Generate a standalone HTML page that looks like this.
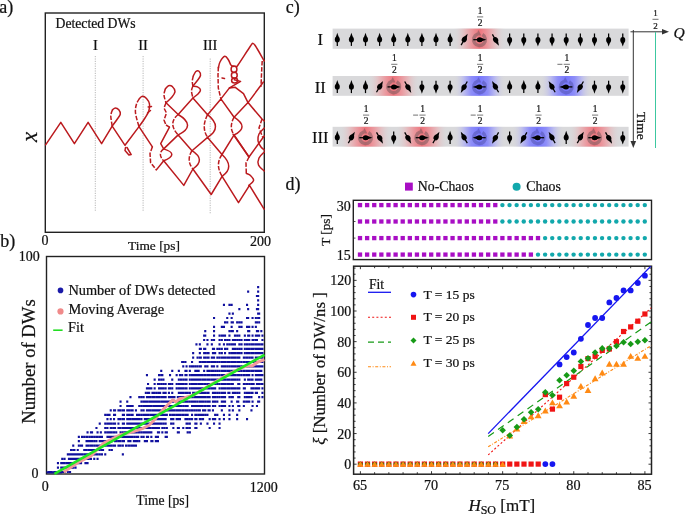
<!DOCTYPE html>
<html><head><meta charset="utf-8"><style>
html,body{margin:0;padding:0;background:#fff;width:685px;height:514px;overflow:hidden}
svg{display:block;will-change:transform}
text{font-family:"Liberation Serif", serif;stroke:#111;stroke-width:0.22px}
</style></head><body>
<svg width="685" height="514" viewBox="0 0 685 514">
<rect width="685" height="514" fill="#fff"/>
<text x="-0.7" y="12.9" font-size="18" text-anchor="start" font-style="normal" fill="#111" >a)</text>
<rect x="45.3" y="13" width="219" height="219.3" fill="none" stroke="#222" stroke-width="1.4"/>
<text x="55.5" y="27.6" font-size="13.7" text-anchor="start" font-style="normal" fill="#111" >Detected DWs</text>
<line x1="95.3" y1="56" x2="95.3" y2="211" stroke="#999" stroke-width="0.7" stroke-dasharray="1.2 1.2"/>
<text x="95.3" y="50.2" font-size="14.5" text-anchor="middle" font-style="normal" fill="#111" >I</text>
<line x1="143.1" y1="56" x2="143.1" y2="211" stroke="#999" stroke-width="0.7" stroke-dasharray="1.2 1.2"/>
<text x="143.1" y="50.2" font-size="14.5" text-anchor="middle" font-style="normal" fill="#111" >II</text>
<line x1="210.2" y1="58.5" x2="210.2" y2="214" stroke="#999" stroke-width="0.7" stroke-dasharray="1.2 1.2"/>
<text x="210.2" y="50.2" font-size="14.5" text-anchor="middle" font-style="normal" fill="#111" >III</text>
<text x="44.9" y="245.3" font-size="14" text-anchor="middle" font-style="normal" fill="#111" >0</text>
<text x="260.4" y="245.6" font-size="14" text-anchor="middle" font-style="normal" fill="#111" >200</text>
<text x="154" y="249.5" font-size="13.4" text-anchor="middle" font-style="normal" fill="#111" >Time [ps]</text>
<text x="0" y="0" font-size="23" font-style="italic" fill="#111" transform="translate(36.6,137) rotate(-90)" text-anchor="middle">x</text>
<g fill="none" stroke="#bb1a1e" stroke-width="1.5" stroke-linejoin="round" stroke-linecap="round">
<path d="M45.6,144.8 L60.8,122.4 L74.4,143.7 L88.1,122.4 L101.6,143.7 L112.2,126.1 L125.0,145.3 L139.0,126.6 L152.4,146.8"/>
<path d="M112.2,126.1 C113.0,125.0 115.7,121.5 117.0,119.5 C118.3,117.5 120.0,115.7 120.3,114.1 C120.6,112.5 119.6,110.8 118.8,109.8 C118.0,108.8 116.3,107.9 115.3,107.9 C114.2,107.9 113.0,109.5 112.5,109.8"/>
<path d="M125.5,147.5 L125.0,150.5 L128.9,155.0 L131.2,154.6 L127.0,147.5"/>
<path d="M139.0,126.6 C140.0,125.2 143.4,120.6 145.0,118.0 C146.6,115.4 148.1,113.3 148.8,111.0 C149.6,108.7 149.9,106.1 149.5,104.0 C149.1,101.9 147.7,99.8 146.5,98.5 C145.3,97.2 143.7,96.3 142.5,96.3 C141.3,96.3 140.0,98.1 139.5,98.5"/>
<path d="M148.2,107.0 L151.5,106.5"/>
<path d="M147.5,113.0 L150.5,110.5"/>
<path d="M156.4,169.9 L163.7,160.8 L183.8,185.4 L192.9,169.0 L211.2,194.5 L222.1,176.3 L238.5,202.7 L249.5,185.4 L264.1,209.1"/>
<path d="M163.7,148.9 Q179.9,153.9 163.7,160.8"/>
<path d="M192.0,150.7 Q206.3,159.8 192.9,169.0"/>
<path d="M222.0,154.5 Q235.4,167.0 222.1,176.3"/>
<path d="M246.3,173.3 C247.0,173.7 249.3,174.3 250.5,175.5 C251.7,176.7 253.9,178.8 253.6,180.4 C253.3,182.1 249.6,184.6 248.8,185.4"/>
<path d="M264.3,128.0 C263.4,129.0 260.1,131.8 259.0,134.0 C257.9,136.2 257.7,138.8 258.0,141.0 C258.3,143.2 259.9,145.5 261.0,147.0 C262.1,148.5 263.8,149.5 264.3,150.0"/>
<path d="M264.3,152.0 C263.4,153.0 260.0,155.8 259.0,158.0 C258.0,160.2 257.6,162.8 258.5,165.0 C259.4,167.2 263.3,170.0 264.3,171.0"/>
<path d="M163.7,148.9 L178.2,134.9 L192.0,150.7 L207.6,137.4 L222.0,154.5 L234.1,134.9 L249.0,157.0 L264.2,136.0"/>
<path d="M178.2,114.5 Q196.9,125.7 178.2,134.9"/>
<path d="M207.6,114.7 Q223.3,127.3 207.6,137.4"/>
<path d="M234.1,117.2 Q249.9,127.3 234.1,134.9"/>
<path d="M166.0,102.8 L178.2,114.5 L192.9,98.0 L207.6,114.7 L220.9,98.9 L234.1,117.2 L248.0,102.6 L262.0,119.0 L264.3,121.0"/>
<path d="M220.9,98.9 L229.5,87.9"/>
<path d="M248.0,102.6 L243.5,93.7 L235.3,87.3 L229.5,87.9"/>
<path d="M248.0,102.6 L263.4,82.0"/>
<path d="M229.5,87.9 L240.6,81.4 L234.2,79.7"/>
<path d="M218.4,68.0 C218.7,67.0 218.9,64.0 220.0,62.0 C221.1,60.0 223.4,56.6 224.8,56.3 C226.2,56.0 227.5,58.5 228.5,60.0 C229.5,61.5 230.1,64.0 231.0,65.1 C231.9,66.2 233.5,66.3 234.0,66.5"/>
<path d="M222.0,78.0 L224.5,78.5"/>
<path d="M236.0,66.5 C236.3,66.2 235.6,68.4 238.0,65.0 C240.4,61.6 248.0,49.6 250.5,46.0 C253.0,42.4 252.1,43.5 252.9,43.5 C253.7,43.5 253.6,43.1 255.5,46.0 C257.4,48.9 262.8,58.5 264.3,61.0"/>
<path d="M192.9,98.0 C193.8,97.3 196.7,95.3 198.0,94.0 C199.3,92.7 200.6,91.2 200.5,90.0 C200.4,88.8 198.8,87.5 197.5,86.8 C196.2,86.1 193.7,86.2 192.9,86.1"/>
<path d="M192.9,86.1 C193.6,85.2 195.7,82.8 197.0,81.0 C198.3,79.2 200.2,77.1 200.5,75.5 C200.8,73.9 199.8,71.9 199.0,71.2 C198.2,70.5 196.8,70.7 195.8,71.5 C194.9,72.3 193.7,75.2 193.3,76.0"/>
<path d="M166.0,102.8 C167.0,101.8 170.5,98.9 172.0,97.0 C173.5,95.1 174.9,93.2 175.0,91.5 C175.1,89.8 173.6,87.7 172.5,86.7 C171.4,85.8 169.7,85.4 168.5,85.8 C167.3,86.2 165.8,88.5 165.3,89.0"/>
<path d="M169.5,127.1 L160.7,143.6 L163.7,148.9"/>
<path d="M233.1,134.3 L249.0,157.0"/>
<ellipse cx="234" cy="69.3" rx="2.9" ry="3.2"/>
<ellipse cx="234.3" cy="75.2" rx="2.9" ry="3.0"/>
<ellipse cx="234.6" cy="80.6" rx="3.0" ry="2.5"/>
</g>
<g fill="none" stroke="#bb1a1e" stroke-width="1.5" stroke-dasharray="4.5 1.6">
<path d="M112.5,109.8 C112.2,110.8 110.8,113.3 110.8,116.0 C110.8,118.7 112.0,124.4 112.2,126.1"/>
<path d="M139.5,98.5 C139.0,99.4 137.2,101.6 136.5,104.0 C135.8,106.4 135.1,109.2 135.5,113.0 C135.9,116.8 138.4,124.3 139.0,126.6"/>
<path d="M152.4,146.8 L150.0,153.5 L150.6,162.6 L156.4,169.9"/>
<path d="M163.7,148.9 Q157.0,153.9 163.7,160.8"/>
<path d="M192.0,150.7 Q185.9,160.2 192.9,169.0"/>
<path d="M222.0,154.5 Q214.8,164.6 222.1,176.3"/>
<path d="M249.0,157.0 L246.0,163.0 L246.3,173.3"/>
<path d="M178.2,114.5 Q167.3,123.3 178.2,134.9"/>
<path d="M207.6,114.7 Q200.9,127.3 207.6,137.4"/>
<path d="M234.1,117.2 Q228.5,127.3 234.1,134.9"/>
<path d="M262.0,119.0 L259.0,128.0 L263.0,138.0"/>
<path d="M218.4,66.9 L218.0,75.0 L218.3,88.0 L220.9,98.9"/>
<path d="M262.2,61.0 L261.6,72.0 L261.0,86.7"/>
<path d="M192.9,86.1 C192.7,86.9 191.5,89.0 191.5,91.0 C191.5,93.0 192.7,96.8 192.9,98.0"/>
<path d="M193.3,76.0 C193.1,76.8 192.4,79.3 192.3,81.0 C192.2,82.7 192.8,85.2 192.9,86.1"/>
<path d="M165.3,89.0 C165.1,90.0 163.9,92.7 164.0,95.0 C164.1,97.3 165.7,101.5 166.0,102.8"/>
<path d="M166.0,102.8 L164.0,108.0 L166.5,113.0 L164.0,120.0 L166.0,125.0"/>
<path d="M166.0,125.0 L169.5,127.1"/>
</g>
<text x="0.3" y="246.9" font-size="18" text-anchor="start" font-style="normal" fill="#111" >b)</text>
<text x="39.8" y="260.5" font-size="14" text-anchor="end" font-style="normal" fill="#111" >100</text>
<text x="38.6" y="478.3" font-size="14" text-anchor="end" font-style="normal" fill="#111" >0</text>
<rect x="46.5" y="256.5" width="218" height="217.5" fill="none" stroke="#222" stroke-width="1.4"/>
<text x="45.3" y="490.8" font-size="14" text-anchor="middle" font-style="normal" fill="#111" >0</text>
<text x="263.8" y="491.6" font-size="14" text-anchor="middle" font-style="normal" fill="#111" >1200</text>
<text x="162.7" y="505.2" font-size="13.6" text-anchor="middle" font-style="normal" fill="#111" >Time [ps]</text>
<text x="0" y="0" font-size="18.7" fill="#111" transform="translate(35.2,361.5) rotate(-90)" text-anchor="middle">Number of DWs</text>
<path d="M48.1,470.9h2.1v2.2h-2.1zM49.2,470.9h2.1v2.2h-2.1zM50.2,470.9h2.1v2.2h-2.1zM53.6,470.9h2.1v2.2h-2.1zM55.8,470.9h2.1v2.2h-2.1zM56.9,462.1h2.1v2.2h-2.1zM56.9,466.5h2.1v2.2h-2.1zM56.9,470.9h2.1v2.2h-2.1zM58.0,470.9h2.1v2.2h-2.1zM60.2,462.1h2.1v2.2h-2.1zM60.2,466.5h2.1v2.2h-2.1zM60.2,470.9h2.1v2.2h-2.1zM61.2,457.7h2.1v2.2h-2.1zM61.2,462.1h2.1v2.2h-2.1zM61.2,466.5h2.1v2.2h-2.1zM61.2,470.9h2.1v2.2h-2.1zM62.4,462.1h2.1v2.2h-2.1zM62.4,466.5h2.1v2.2h-2.1zM62.4,470.9h2.1v2.2h-2.1zM63.5,457.7h2.1v2.2h-2.1zM63.5,462.1h2.1v2.2h-2.1zM63.5,466.5h2.1v2.2h-2.1zM63.5,470.9h2.1v2.2h-2.1zM65.7,462.1h2.1v2.2h-2.1zM65.7,466.5h2.1v2.2h-2.1zM66.8,453.3h2.1v2.2h-2.1zM66.8,462.1h2.1v2.2h-2.1zM66.8,466.5h2.1v2.2h-2.1zM66.8,470.9h2.1v2.2h-2.1zM67.9,453.3h2.1v2.2h-2.1zM67.9,457.7h2.1v2.2h-2.1zM67.9,462.1h2.1v2.2h-2.1zM69.0,453.3h2.1v2.2h-2.1zM69.0,457.7h2.1v2.2h-2.1zM69.0,462.1h2.1v2.2h-2.1zM69.0,466.5h2.1v2.2h-2.1zM69.0,470.9h2.1v2.2h-2.1zM70.0,448.9h2.1v2.2h-2.1zM70.0,453.3h2.1v2.2h-2.1zM70.0,457.7h2.1v2.2h-2.1zM70.0,466.5h2.1v2.2h-2.1zM71.2,453.3h2.1v2.2h-2.1zM71.2,457.7h2.1v2.2h-2.1zM71.2,462.1h2.1v2.2h-2.1zM71.2,466.5h2.1v2.2h-2.1zM72.2,444.5h2.1v2.2h-2.1zM72.2,448.9h2.1v2.2h-2.1zM72.2,453.3h2.1v2.2h-2.1zM72.2,457.7h2.1v2.2h-2.1zM72.2,462.1h2.1v2.2h-2.1zM72.2,466.5h2.1v2.2h-2.1zM73.4,448.9h2.1v2.2h-2.1zM73.4,453.3h2.1v2.2h-2.1zM73.4,457.7h2.1v2.2h-2.1zM73.4,462.1h2.1v2.2h-2.1zM74.5,453.3h2.1v2.2h-2.1zM74.5,457.7h2.1v2.2h-2.1zM74.5,462.1h2.1v2.2h-2.1zM74.5,466.5h2.1v2.2h-2.1zM75.5,453.3h2.1v2.2h-2.1zM75.5,457.7h2.1v2.2h-2.1zM75.5,462.1h2.1v2.2h-2.1zM76.7,448.9h2.1v2.2h-2.1zM76.7,453.3h2.1v2.2h-2.1zM76.7,457.7h2.1v2.2h-2.1zM76.7,462.1h2.1v2.2h-2.1zM77.8,435.7h2.1v2.2h-2.1zM77.8,440.1h2.1v2.2h-2.1zM77.8,444.5h2.1v2.2h-2.1zM77.8,453.3h2.1v2.2h-2.1zM77.8,457.7h2.1v2.2h-2.1zM77.8,462.1h2.1v2.2h-2.1zM78.9,453.3h2.1v2.2h-2.1zM78.9,457.7h2.1v2.2h-2.1zM80.0,444.5h2.1v2.2h-2.1zM80.0,453.3h2.1v2.2h-2.1zM80.0,457.7h2.1v2.2h-2.1zM80.0,462.1h2.1v2.2h-2.1zM81.0,435.7h2.1v2.2h-2.1zM81.0,444.5h2.1v2.2h-2.1zM81.0,453.3h2.1v2.2h-2.1zM81.0,457.7h2.1v2.2h-2.1zM83.2,435.7h2.1v2.2h-2.1zM83.2,448.9h2.1v2.2h-2.1zM83.2,453.3h2.1v2.2h-2.1zM83.2,457.7h2.1v2.2h-2.1zM84.4,448.9h2.1v2.2h-2.1zM84.4,453.3h2.1v2.2h-2.1zM84.4,457.7h2.1v2.2h-2.1zM84.4,462.1h2.1v2.2h-2.1zM85.5,435.7h2.1v2.2h-2.1zM85.5,440.1h2.1v2.2h-2.1zM85.5,444.5h2.1v2.2h-2.1zM85.5,448.9h2.1v2.2h-2.1zM85.5,453.3h2.1v2.2h-2.1zM86.5,431.3h2.1v2.2h-2.1zM86.5,435.7h2.1v2.2h-2.1zM86.5,440.1h2.1v2.2h-2.1zM86.5,444.5h2.1v2.2h-2.1zM86.5,453.3h2.1v2.2h-2.1zM86.5,457.7h2.1v2.2h-2.1zM86.5,462.1h2.1v2.2h-2.1zM87.7,440.1h2.1v2.2h-2.1zM87.7,444.5h2.1v2.2h-2.1zM87.7,448.9h2.1v2.2h-2.1zM87.7,453.3h2.1v2.2h-2.1zM87.7,457.7h2.1v2.2h-2.1zM88.8,435.7h2.1v2.2h-2.1zM88.8,440.1h2.1v2.2h-2.1zM88.8,448.9h2.1v2.2h-2.1zM88.8,453.3h2.1v2.2h-2.1zM89.9,431.3h2.1v2.2h-2.1zM89.9,440.1h2.1v2.2h-2.1zM89.9,444.5h2.1v2.2h-2.1zM89.9,448.9h2.1v2.2h-2.1zM89.9,453.3h2.1v2.2h-2.1zM89.9,457.7h2.1v2.2h-2.1zM91.0,431.3h2.1v2.2h-2.1zM91.0,435.7h2.1v2.2h-2.1zM91.0,440.1h2.1v2.2h-2.1zM91.0,444.5h2.1v2.2h-2.1zM91.0,448.9h2.1v2.2h-2.1zM91.0,453.3h2.1v2.2h-2.1zM92.0,448.9h2.1v2.2h-2.1zM92.0,453.3h2.1v2.2h-2.1zM93.2,435.7h2.1v2.2h-2.1zM93.2,440.1h2.1v2.2h-2.1zM93.2,444.5h2.1v2.2h-2.1zM93.2,448.9h2.1v2.2h-2.1zM93.2,453.3h2.1v2.2h-2.1zM93.2,457.7h2.1v2.2h-2.1zM95.4,426.9h2.1v2.2h-2.1zM95.4,435.7h2.1v2.2h-2.1zM95.4,440.1h2.1v2.2h-2.1zM95.4,444.5h2.1v2.2h-2.1zM95.4,448.9h2.1v2.2h-2.1zM95.4,453.3h2.1v2.2h-2.1zM96.5,431.3h2.1v2.2h-2.1zM96.5,435.7h2.1v2.2h-2.1zM96.5,444.5h2.1v2.2h-2.1zM96.5,448.9h2.1v2.2h-2.1zM96.5,453.3h2.1v2.2h-2.1zM96.5,457.7h2.1v2.2h-2.1zM98.7,422.5h2.1v2.2h-2.1zM98.7,435.7h2.1v2.2h-2.1zM98.7,440.1h2.1v2.2h-2.1zM98.7,444.5h2.1v2.2h-2.1zM98.7,448.9h2.1v2.2h-2.1zM98.7,453.3h2.1v2.2h-2.1zM99.8,431.3h2.1v2.2h-2.1zM99.8,435.7h2.1v2.2h-2.1zM99.8,440.1h2.1v2.2h-2.1zM99.8,444.5h2.1v2.2h-2.1zM100.9,435.7h2.1v2.2h-2.1zM100.9,440.1h2.1v2.2h-2.1zM100.9,444.5h2.1v2.2h-2.1zM100.9,448.9h2.1v2.2h-2.1zM100.9,453.3h2.1v2.2h-2.1zM102.0,440.1h2.1v2.2h-2.1zM102.0,444.5h2.1v2.2h-2.1zM102.0,448.9h2.1v2.2h-2.1zM104.2,413.7h2.1v2.2h-2.1zM104.2,422.5h2.1v2.2h-2.1zM104.2,426.9h2.1v2.2h-2.1zM104.2,431.3h2.1v2.2h-2.1zM104.2,440.1h2.1v2.2h-2.1zM104.2,444.5h2.1v2.2h-2.1zM104.2,453.3h2.1v2.2h-2.1zM106.4,413.7h2.1v2.2h-2.1zM106.4,418.1h2.1v2.2h-2.1zM106.4,422.5h2.1v2.2h-2.1zM106.4,426.9h2.1v2.2h-2.1zM106.4,431.3h2.1v2.2h-2.1zM106.4,435.7h2.1v2.2h-2.1zM106.4,440.1h2.1v2.2h-2.1zM106.4,444.5h2.1v2.2h-2.1zM107.5,440.1h2.1v2.2h-2.1zM107.5,444.5h2.1v2.2h-2.1zM108.5,413.7h2.1v2.2h-2.1zM108.5,422.5h2.1v2.2h-2.1zM108.5,431.3h2.1v2.2h-2.1zM108.5,435.7h2.1v2.2h-2.1zM108.5,440.1h2.1v2.2h-2.1zM108.5,444.5h2.1v2.2h-2.1zM108.5,448.9h2.1v2.2h-2.1zM109.7,409.3h2.1v2.2h-2.1zM109.7,418.1h2.1v2.2h-2.1zM109.7,422.5h2.1v2.2h-2.1zM109.7,426.9h2.1v2.2h-2.1zM109.7,431.3h2.1v2.2h-2.1zM109.7,435.7h2.1v2.2h-2.1zM109.7,440.1h2.1v2.2h-2.1zM109.7,444.5h2.1v2.2h-2.1zM110.8,422.5h2.1v2.2h-2.1zM110.8,426.9h2.1v2.2h-2.1zM110.8,431.3h2.1v2.2h-2.1zM110.8,435.7h2.1v2.2h-2.1zM110.8,440.1h2.1v2.2h-2.1zM110.8,444.5h2.1v2.2h-2.1zM110.8,448.9h2.1v2.2h-2.1zM113.0,409.3h2.1v2.2h-2.1zM113.0,413.7h2.1v2.2h-2.1zM113.0,418.1h2.1v2.2h-2.1zM113.0,422.5h2.1v2.2h-2.1zM113.0,426.9h2.1v2.2h-2.1zM113.0,431.3h2.1v2.2h-2.1zM113.0,435.7h2.1v2.2h-2.1zM113.0,444.5h2.1v2.2h-2.1zM114.0,409.3h2.1v2.2h-2.1zM114.0,413.7h2.1v2.2h-2.1zM114.0,422.5h2.1v2.2h-2.1zM114.0,426.9h2.1v2.2h-2.1zM114.0,435.7h2.1v2.2h-2.1zM114.0,440.1h2.1v2.2h-2.1zM114.0,444.5h2.1v2.2h-2.1zM115.2,431.3h2.1v2.2h-2.1zM115.2,435.7h2.1v2.2h-2.1zM115.2,440.1h2.1v2.2h-2.1zM117.4,409.3h2.1v2.2h-2.1zM117.4,418.1h2.1v2.2h-2.1zM117.4,422.5h2.1v2.2h-2.1zM117.4,426.9h2.1v2.2h-2.1zM117.4,435.7h2.1v2.2h-2.1zM117.4,440.1h2.1v2.2h-2.1zM117.4,444.5h2.1v2.2h-2.1zM119.5,400.5h2.1v2.2h-2.1zM119.5,404.9h2.1v2.2h-2.1zM119.5,409.3h2.1v2.2h-2.1zM119.5,418.1h2.1v2.2h-2.1zM119.5,426.9h2.1v2.2h-2.1zM119.5,431.3h2.1v2.2h-2.1zM119.5,435.7h2.1v2.2h-2.1zM119.5,440.1h2.1v2.2h-2.1zM119.5,444.5h2.1v2.2h-2.1zM121.8,409.3h2.1v2.2h-2.1zM121.8,413.7h2.1v2.2h-2.1zM121.8,418.1h2.1v2.2h-2.1zM121.8,422.5h2.1v2.2h-2.1zM121.8,426.9h2.1v2.2h-2.1zM121.8,431.3h2.1v2.2h-2.1zM121.8,435.7h2.1v2.2h-2.1zM121.8,440.1h2.1v2.2h-2.1zM121.8,444.5h2.1v2.2h-2.1zM121.8,453.3h2.1v2.2h-2.1zM122.9,409.3h2.1v2.2h-2.1zM122.9,413.7h2.1v2.2h-2.1zM122.9,418.1h2.1v2.2h-2.1zM122.9,422.5h2.1v2.2h-2.1zM122.9,426.9h2.1v2.2h-2.1zM122.9,435.7h2.1v2.2h-2.1zM122.9,440.1h2.1v2.2h-2.1zM124.0,431.3h2.1v2.2h-2.1zM124.0,435.7h2.1v2.2h-2.1zM125.0,426.9h2.1v2.2h-2.1zM125.0,431.3h2.1v2.2h-2.1zM125.0,435.7h2.1v2.2h-2.1zM125.0,444.5h2.1v2.2h-2.1zM126.2,400.5h2.1v2.2h-2.1zM126.2,404.9h2.1v2.2h-2.1zM126.2,409.3h2.1v2.2h-2.1zM126.2,413.7h2.1v2.2h-2.1zM126.2,418.1h2.1v2.2h-2.1zM126.2,422.5h2.1v2.2h-2.1zM126.2,426.9h2.1v2.2h-2.1zM126.2,431.3h2.1v2.2h-2.1zM126.2,435.7h2.1v2.2h-2.1zM127.3,413.7h2.1v2.2h-2.1zM127.3,418.1h2.1v2.2h-2.1zM127.3,426.9h2.1v2.2h-2.1zM127.3,431.3h2.1v2.2h-2.1zM127.3,440.1h2.1v2.2h-2.1zM127.3,444.5h2.1v2.2h-2.1zM128.3,404.9h2.1v2.2h-2.1zM128.3,409.3h2.1v2.2h-2.1zM128.3,413.7h2.1v2.2h-2.1zM128.3,422.5h2.1v2.2h-2.1zM128.3,426.9h2.1v2.2h-2.1zM128.3,431.3h2.1v2.2h-2.1zM128.3,435.7h2.1v2.2h-2.1zM128.3,440.1h2.1v2.2h-2.1zM128.3,444.5h2.1v2.2h-2.1zM129.4,396.1h2.1v2.2h-2.1zM129.4,404.9h2.1v2.2h-2.1zM129.4,418.1h2.1v2.2h-2.1zM129.4,422.5h2.1v2.2h-2.1zM129.4,426.9h2.1v2.2h-2.1zM129.4,431.3h2.1v2.2h-2.1zM129.4,435.7h2.1v2.2h-2.1zM129.4,440.1h2.1v2.2h-2.1zM130.5,404.9h2.1v2.2h-2.1zM130.5,409.3h2.1v2.2h-2.1zM130.5,413.7h2.1v2.2h-2.1zM130.5,422.5h2.1v2.2h-2.1zM130.5,426.9h2.1v2.2h-2.1zM130.5,431.3h2.1v2.2h-2.1zM130.5,435.7h2.1v2.2h-2.1zM130.5,444.5h2.1v2.2h-2.1zM131.6,404.9h2.1v2.2h-2.1zM131.6,409.3h2.1v2.2h-2.1zM131.6,413.7h2.1v2.2h-2.1zM131.6,418.1h2.1v2.2h-2.1zM131.6,422.5h2.1v2.2h-2.1zM131.6,426.9h2.1v2.2h-2.1zM131.6,431.3h2.1v2.2h-2.1zM131.6,435.7h2.1v2.2h-2.1zM131.6,444.5h2.1v2.2h-2.1zM132.8,418.1h2.1v2.2h-2.1zM132.8,422.5h2.1v2.2h-2.1zM132.8,426.9h2.1v2.2h-2.1zM132.8,431.3h2.1v2.2h-2.1zM132.8,440.1h2.1v2.2h-2.1zM132.8,444.5h2.1v2.2h-2.1zM133.8,426.9h2.1v2.2h-2.1zM133.8,431.3h2.1v2.2h-2.1zM133.8,435.7h2.1v2.2h-2.1zM134.9,409.3h2.1v2.2h-2.1zM134.9,418.1h2.1v2.2h-2.1zM134.9,422.5h2.1v2.2h-2.1zM134.9,426.9h2.1v2.2h-2.1zM134.9,431.3h2.1v2.2h-2.1zM134.9,440.1h2.1v2.2h-2.1zM134.9,444.5h2.1v2.2h-2.1zM136.0,413.7h2.1v2.2h-2.1zM136.0,418.1h2.1v2.2h-2.1zM136.0,422.5h2.1v2.2h-2.1zM136.0,426.9h2.1v2.2h-2.1zM136.0,435.7h2.1v2.2h-2.1zM136.0,440.1h2.1v2.2h-2.1zM137.1,413.7h2.1v2.2h-2.1zM137.1,418.1h2.1v2.2h-2.1zM137.1,422.5h2.1v2.2h-2.1zM137.1,426.9h2.1v2.2h-2.1zM137.1,431.3h2.1v2.2h-2.1zM137.1,435.7h2.1v2.2h-2.1zM138.2,396.1h2.1v2.2h-2.1zM138.2,404.9h2.1v2.2h-2.1zM138.2,413.7h2.1v2.2h-2.1zM138.2,418.1h2.1v2.2h-2.1zM138.2,422.5h2.1v2.2h-2.1zM138.2,426.9h2.1v2.2h-2.1zM138.2,431.3h2.1v2.2h-2.1zM138.2,440.1h2.1v2.2h-2.1zM140.4,396.1h2.1v2.2h-2.1zM140.4,400.5h2.1v2.2h-2.1zM140.4,404.9h2.1v2.2h-2.1zM140.4,409.3h2.1v2.2h-2.1zM140.4,413.7h2.1v2.2h-2.1zM140.4,418.1h2.1v2.2h-2.1zM140.4,422.5h2.1v2.2h-2.1zM140.4,426.9h2.1v2.2h-2.1zM140.4,431.3h2.1v2.2h-2.1zM140.4,435.7h2.1v2.2h-2.1zM142.6,396.1h2.1v2.2h-2.1zM142.6,400.5h2.1v2.2h-2.1zM142.6,404.9h2.1v2.2h-2.1zM142.6,409.3h2.1v2.2h-2.1zM142.6,413.7h2.1v2.2h-2.1zM142.6,422.5h2.1v2.2h-2.1zM142.6,426.9h2.1v2.2h-2.1zM142.6,431.3h2.1v2.2h-2.1zM142.6,435.7h2.1v2.2h-2.1zM143.8,400.5h2.1v2.2h-2.1zM143.8,404.9h2.1v2.2h-2.1zM143.8,413.7h2.1v2.2h-2.1zM143.8,418.1h2.1v2.2h-2.1zM143.8,422.5h2.1v2.2h-2.1zM143.8,431.3h2.1v2.2h-2.1zM143.8,440.1h2.1v2.2h-2.1zM144.8,391.7h2.1v2.2h-2.1zM144.8,400.5h2.1v2.2h-2.1zM144.8,404.9h2.1v2.2h-2.1zM144.8,413.7h2.1v2.2h-2.1zM144.8,418.1h2.1v2.2h-2.1zM144.8,422.5h2.1v2.2h-2.1zM144.8,426.9h2.1v2.2h-2.1zM145.9,374.1h2.1v2.2h-2.1zM145.9,387.3h2.1v2.2h-2.1zM145.9,396.1h2.1v2.2h-2.1zM145.9,400.5h2.1v2.2h-2.1zM145.9,404.9h2.1v2.2h-2.1zM145.9,409.3h2.1v2.2h-2.1zM145.9,413.7h2.1v2.2h-2.1zM145.9,418.1h2.1v2.2h-2.1zM145.9,422.5h2.1v2.2h-2.1zM145.9,426.9h2.1v2.2h-2.1zM145.9,431.3h2.1v2.2h-2.1zM145.9,435.7h2.1v2.2h-2.1zM145.9,440.1h2.1v2.2h-2.1zM147.0,382.9h2.1v2.2h-2.1zM147.0,387.3h2.1v2.2h-2.1zM147.0,391.7h2.1v2.2h-2.1zM147.0,396.1h2.1v2.2h-2.1zM147.0,404.9h2.1v2.2h-2.1zM147.0,409.3h2.1v2.2h-2.1zM147.0,413.7h2.1v2.2h-2.1zM147.0,418.1h2.1v2.2h-2.1zM147.0,422.5h2.1v2.2h-2.1zM147.0,426.9h2.1v2.2h-2.1zM147.0,431.3h2.1v2.2h-2.1zM147.0,435.7h2.1v2.2h-2.1zM148.1,387.3h2.1v2.2h-2.1zM148.1,391.7h2.1v2.2h-2.1zM148.1,396.1h2.1v2.2h-2.1zM148.1,400.5h2.1v2.2h-2.1zM148.1,404.9h2.1v2.2h-2.1zM148.1,409.3h2.1v2.2h-2.1zM148.1,418.1h2.1v2.2h-2.1zM148.1,422.5h2.1v2.2h-2.1zM148.1,426.9h2.1v2.2h-2.1zM148.1,431.3h2.1v2.2h-2.1zM149.2,387.3h2.1v2.2h-2.1zM149.2,396.1h2.1v2.2h-2.1zM149.2,400.5h2.1v2.2h-2.1zM149.2,404.9h2.1v2.2h-2.1zM149.2,409.3h2.1v2.2h-2.1zM149.2,413.7h2.1v2.2h-2.1zM149.2,418.1h2.1v2.2h-2.1zM149.2,422.5h2.1v2.2h-2.1zM149.2,426.9h2.1v2.2h-2.1zM149.2,431.3h2.1v2.2h-2.1zM150.3,387.3h2.1v2.2h-2.1zM150.3,400.5h2.1v2.2h-2.1zM150.3,404.9h2.1v2.2h-2.1zM150.3,413.7h2.1v2.2h-2.1zM150.3,418.1h2.1v2.2h-2.1zM150.3,431.3h2.1v2.2h-2.1zM150.3,435.7h2.1v2.2h-2.1zM150.3,440.1h2.1v2.2h-2.1zM151.4,391.7h2.1v2.2h-2.1zM151.4,396.1h2.1v2.2h-2.1zM151.4,400.5h2.1v2.2h-2.1zM151.4,409.3h2.1v2.2h-2.1zM151.4,413.7h2.1v2.2h-2.1zM151.4,418.1h2.1v2.2h-2.1zM151.4,422.5h2.1v2.2h-2.1zM151.4,426.9h2.1v2.2h-2.1zM151.4,440.1h2.1v2.2h-2.1zM152.5,391.7h2.1v2.2h-2.1zM152.5,396.1h2.1v2.2h-2.1zM152.5,400.5h2.1v2.2h-2.1zM152.5,404.9h2.1v2.2h-2.1zM152.5,409.3h2.1v2.2h-2.1zM152.5,413.7h2.1v2.2h-2.1zM152.5,418.1h2.1v2.2h-2.1zM152.5,422.5h2.1v2.2h-2.1zM152.5,426.9h2.1v2.2h-2.1zM153.6,378.5h2.1v2.2h-2.1zM153.6,382.9h2.1v2.2h-2.1zM153.6,387.3h2.1v2.2h-2.1zM153.6,391.7h2.1v2.2h-2.1zM153.6,396.1h2.1v2.2h-2.1zM153.6,400.5h2.1v2.2h-2.1zM153.6,404.9h2.1v2.2h-2.1zM153.6,409.3h2.1v2.2h-2.1zM153.6,413.7h2.1v2.2h-2.1zM153.6,418.1h2.1v2.2h-2.1zM153.6,422.5h2.1v2.2h-2.1zM153.6,426.9h2.1v2.2h-2.1zM154.8,400.5h2.1v2.2h-2.1zM154.8,404.9h2.1v2.2h-2.1zM154.8,409.3h2.1v2.2h-2.1zM154.8,413.7h2.1v2.2h-2.1zM154.8,418.1h2.1v2.2h-2.1zM154.8,422.5h2.1v2.2h-2.1zM154.8,426.9h2.1v2.2h-2.1zM154.8,435.7h2.1v2.2h-2.1zM154.8,440.1h2.1v2.2h-2.1zM155.8,391.7h2.1v2.2h-2.1zM155.8,396.1h2.1v2.2h-2.1zM155.8,400.5h2.1v2.2h-2.1zM155.8,404.9h2.1v2.2h-2.1zM155.8,409.3h2.1v2.2h-2.1zM155.8,413.7h2.1v2.2h-2.1zM155.8,418.1h2.1v2.2h-2.1zM155.8,422.5h2.1v2.2h-2.1zM156.9,382.9h2.1v2.2h-2.1zM156.9,396.1h2.1v2.2h-2.1zM156.9,400.5h2.1v2.2h-2.1zM156.9,404.9h2.1v2.2h-2.1zM156.9,409.3h2.1v2.2h-2.1zM156.9,413.7h2.1v2.2h-2.1zM156.9,418.1h2.1v2.2h-2.1zM156.9,422.5h2.1v2.2h-2.1zM156.9,426.9h2.1v2.2h-2.1zM156.9,431.3h2.1v2.2h-2.1zM156.9,435.7h2.1v2.2h-2.1zM156.9,440.1h2.1v2.2h-2.1zM158.0,374.1h2.1v2.2h-2.1zM158.0,378.5h2.1v2.2h-2.1zM158.0,382.9h2.1v2.2h-2.1zM158.0,387.3h2.1v2.2h-2.1zM158.0,391.7h2.1v2.2h-2.1zM158.0,396.1h2.1v2.2h-2.1zM158.0,400.5h2.1v2.2h-2.1zM158.0,404.9h2.1v2.2h-2.1zM158.0,409.3h2.1v2.2h-2.1zM158.0,413.7h2.1v2.2h-2.1zM158.0,418.1h2.1v2.2h-2.1zM158.0,422.5h2.1v2.2h-2.1zM158.0,426.9h2.1v2.2h-2.1zM158.0,431.3h2.1v2.2h-2.1zM159.1,387.3h2.1v2.2h-2.1zM159.1,391.7h2.1v2.2h-2.1zM159.1,404.9h2.1v2.2h-2.1zM159.1,409.3h2.1v2.2h-2.1zM159.1,413.7h2.1v2.2h-2.1zM159.1,418.1h2.1v2.2h-2.1zM159.1,422.5h2.1v2.2h-2.1zM160.2,369.7h2.1v2.2h-2.1zM160.2,374.1h2.1v2.2h-2.1zM160.2,378.5h2.1v2.2h-2.1zM160.2,382.9h2.1v2.2h-2.1zM160.2,387.3h2.1v2.2h-2.1zM160.2,396.1h2.1v2.2h-2.1zM160.2,400.5h2.1v2.2h-2.1zM160.2,404.9h2.1v2.2h-2.1zM160.2,409.3h2.1v2.2h-2.1zM160.2,413.7h2.1v2.2h-2.1zM160.2,418.1h2.1v2.2h-2.1zM160.2,422.5h2.1v2.2h-2.1zM161.3,374.1h2.1v2.2h-2.1zM161.3,387.3h2.1v2.2h-2.1zM161.3,396.1h2.1v2.2h-2.1zM161.3,400.5h2.1v2.2h-2.1zM161.3,404.9h2.1v2.2h-2.1zM161.3,409.3h2.1v2.2h-2.1zM161.3,413.7h2.1v2.2h-2.1zM161.3,418.1h2.1v2.2h-2.1zM161.3,426.9h2.1v2.2h-2.1zM161.3,431.3h2.1v2.2h-2.1zM162.4,378.5h2.1v2.2h-2.1zM162.4,382.9h2.1v2.2h-2.1zM162.4,387.3h2.1v2.2h-2.1zM162.4,391.7h2.1v2.2h-2.1zM162.4,396.1h2.1v2.2h-2.1zM162.4,400.5h2.1v2.2h-2.1zM162.4,404.9h2.1v2.2h-2.1zM162.4,409.3h2.1v2.2h-2.1zM162.4,413.7h2.1v2.2h-2.1zM162.4,418.1h2.1v2.2h-2.1zM162.4,422.5h2.1v2.2h-2.1zM163.5,391.7h2.1v2.2h-2.1zM163.5,396.1h2.1v2.2h-2.1zM163.5,400.5h2.1v2.2h-2.1zM163.5,404.9h2.1v2.2h-2.1zM163.5,409.3h2.1v2.2h-2.1zM163.5,413.7h2.1v2.2h-2.1zM163.5,418.1h2.1v2.2h-2.1zM163.5,426.9h2.1v2.2h-2.1zM164.6,382.9h2.1v2.2h-2.1zM164.6,387.3h2.1v2.2h-2.1zM164.6,391.7h2.1v2.2h-2.1zM164.6,396.1h2.1v2.2h-2.1zM164.6,400.5h2.1v2.2h-2.1zM164.6,404.9h2.1v2.2h-2.1zM164.6,409.3h2.1v2.2h-2.1zM164.6,413.7h2.1v2.2h-2.1zM164.6,418.1h2.1v2.2h-2.1zM164.6,422.5h2.1v2.2h-2.1zM164.6,431.3h2.1v2.2h-2.1zM164.6,435.7h2.1v2.2h-2.1zM165.8,400.5h2.1v2.2h-2.1zM165.8,404.9h2.1v2.2h-2.1zM165.8,409.3h2.1v2.2h-2.1zM165.8,413.7h2.1v2.2h-2.1zM165.8,426.9h2.1v2.2h-2.1zM165.8,431.3h2.1v2.2h-2.1zM165.8,435.7h2.1v2.2h-2.1zM167.9,382.9h2.1v2.2h-2.1zM167.9,387.3h2.1v2.2h-2.1zM167.9,391.7h2.1v2.2h-2.1zM167.9,396.1h2.1v2.2h-2.1zM167.9,400.5h2.1v2.2h-2.1zM167.9,404.9h2.1v2.2h-2.1zM167.9,409.3h2.1v2.2h-2.1zM169.0,374.1h2.1v2.2h-2.1zM169.0,382.9h2.1v2.2h-2.1zM169.0,387.3h2.1v2.2h-2.1zM169.0,396.1h2.1v2.2h-2.1zM169.0,400.5h2.1v2.2h-2.1zM169.0,404.9h2.1v2.2h-2.1zM169.0,409.3h2.1v2.2h-2.1zM169.0,413.7h2.1v2.2h-2.1zM170.1,396.1h2.1v2.2h-2.1zM170.1,400.5h2.1v2.2h-2.1zM170.1,404.9h2.1v2.2h-2.1zM170.1,409.3h2.1v2.2h-2.1zM170.1,418.1h2.1v2.2h-2.1zM170.1,422.5h2.1v2.2h-2.1zM171.2,369.7h2.1v2.2h-2.1zM171.2,378.5h2.1v2.2h-2.1zM171.2,382.9h2.1v2.2h-2.1zM171.2,387.3h2.1v2.2h-2.1zM171.2,391.7h2.1v2.2h-2.1zM171.2,396.1h2.1v2.2h-2.1zM171.2,400.5h2.1v2.2h-2.1zM171.2,404.9h2.1v2.2h-2.1zM171.2,409.3h2.1v2.2h-2.1zM171.2,413.7h2.1v2.2h-2.1zM171.2,418.1h2.1v2.2h-2.1zM172.3,396.1h2.1v2.2h-2.1zM172.3,400.5h2.1v2.2h-2.1zM172.3,404.9h2.1v2.2h-2.1zM172.3,409.3h2.1v2.2h-2.1zM172.3,413.7h2.1v2.2h-2.1zM172.3,418.1h2.1v2.2h-2.1zM172.3,422.5h2.1v2.2h-2.1zM172.3,426.9h2.1v2.2h-2.1zM173.4,396.1h2.1v2.2h-2.1zM173.4,404.9h2.1v2.2h-2.1zM173.4,409.3h2.1v2.2h-2.1zM173.4,413.7h2.1v2.2h-2.1zM175.6,374.1h2.1v2.2h-2.1zM175.6,382.9h2.1v2.2h-2.1zM175.6,387.3h2.1v2.2h-2.1zM175.6,400.5h2.1v2.2h-2.1zM175.6,404.9h2.1v2.2h-2.1zM175.6,409.3h2.1v2.2h-2.1zM175.6,413.7h2.1v2.2h-2.1zM175.6,418.1h2.1v2.2h-2.1zM176.8,396.1h2.1v2.2h-2.1zM176.8,400.5h2.1v2.2h-2.1zM176.8,404.9h2.1v2.2h-2.1zM176.8,409.3h2.1v2.2h-2.1zM176.8,413.7h2.1v2.2h-2.1zM176.8,418.1h2.1v2.2h-2.1zM176.8,426.9h2.1v2.2h-2.1zM176.8,431.3h2.1v2.2h-2.1zM177.8,369.7h2.1v2.2h-2.1zM177.8,378.5h2.1v2.2h-2.1zM177.8,382.9h2.1v2.2h-2.1zM177.8,387.3h2.1v2.2h-2.1zM177.8,391.7h2.1v2.2h-2.1zM177.8,396.1h2.1v2.2h-2.1zM177.8,400.5h2.1v2.2h-2.1zM177.8,404.9h2.1v2.2h-2.1zM177.8,409.3h2.1v2.2h-2.1zM177.8,413.7h2.1v2.2h-2.1zM177.8,418.1h2.1v2.2h-2.1zM177.8,426.9h2.1v2.2h-2.1zM177.8,431.3h2.1v2.2h-2.1zM178.9,374.1h2.1v2.2h-2.1zM178.9,382.9h2.1v2.2h-2.1zM178.9,387.3h2.1v2.2h-2.1zM178.9,391.7h2.1v2.2h-2.1zM178.9,396.1h2.1v2.2h-2.1zM178.9,400.5h2.1v2.2h-2.1zM178.9,404.9h2.1v2.2h-2.1zM178.9,409.3h2.1v2.2h-2.1zM178.9,413.7h2.1v2.2h-2.1zM178.9,418.1h2.1v2.2h-2.1zM180.0,378.5h2.1v2.2h-2.1zM180.0,382.9h2.1v2.2h-2.1zM180.0,387.3h2.1v2.2h-2.1zM180.0,391.7h2.1v2.2h-2.1zM180.0,396.1h2.1v2.2h-2.1zM180.0,400.5h2.1v2.2h-2.1zM180.0,404.9h2.1v2.2h-2.1zM181.1,360.9h2.1v2.2h-2.1zM181.1,374.1h2.1v2.2h-2.1zM181.1,382.9h2.1v2.2h-2.1zM181.1,387.3h2.1v2.2h-2.1zM181.1,391.7h2.1v2.2h-2.1zM181.1,396.1h2.1v2.2h-2.1zM181.1,400.5h2.1v2.2h-2.1zM181.1,409.3h2.1v2.2h-2.1zM181.1,413.7h2.1v2.2h-2.1zM182.2,360.9h2.1v2.2h-2.1zM182.2,365.3h2.1v2.2h-2.1zM182.2,378.5h2.1v2.2h-2.1zM182.2,382.9h2.1v2.2h-2.1zM182.2,387.3h2.1v2.2h-2.1zM182.2,391.7h2.1v2.2h-2.1zM182.2,396.1h2.1v2.2h-2.1zM182.2,400.5h2.1v2.2h-2.1zM182.2,404.9h2.1v2.2h-2.1zM182.2,409.3h2.1v2.2h-2.1zM182.2,413.7h2.1v2.2h-2.1zM182.2,426.9h2.1v2.2h-2.1zM184.4,360.9h2.1v2.2h-2.1zM184.4,369.7h2.1v2.2h-2.1zM184.4,374.1h2.1v2.2h-2.1zM184.4,378.5h2.1v2.2h-2.1zM184.4,382.9h2.1v2.2h-2.1zM184.4,387.3h2.1v2.2h-2.1zM184.4,391.7h2.1v2.2h-2.1zM184.4,396.1h2.1v2.2h-2.1zM184.4,400.5h2.1v2.2h-2.1zM184.4,404.9h2.1v2.2h-2.1zM184.4,409.3h2.1v2.2h-2.1zM184.4,413.7h2.1v2.2h-2.1zM184.4,418.1h2.1v2.2h-2.1zM185.5,365.3h2.1v2.2h-2.1zM185.5,369.7h2.1v2.2h-2.1zM185.5,374.1h2.1v2.2h-2.1zM185.5,378.5h2.1v2.2h-2.1zM185.5,382.9h2.1v2.2h-2.1zM185.5,387.3h2.1v2.2h-2.1zM185.5,391.7h2.1v2.2h-2.1zM185.5,396.1h2.1v2.2h-2.1zM185.5,400.5h2.1v2.2h-2.1zM185.5,404.9h2.1v2.2h-2.1zM185.5,409.3h2.1v2.2h-2.1zM185.5,413.7h2.1v2.2h-2.1zM185.5,418.1h2.1v2.2h-2.1zM185.5,422.5h2.1v2.2h-2.1zM185.5,426.9h2.1v2.2h-2.1zM186.6,391.7h2.1v2.2h-2.1zM186.6,396.1h2.1v2.2h-2.1zM186.6,400.5h2.1v2.2h-2.1zM186.6,404.9h2.1v2.2h-2.1zM186.6,409.3h2.1v2.2h-2.1zM186.6,413.7h2.1v2.2h-2.1zM186.6,418.1h2.1v2.2h-2.1zM186.6,422.5h2.1v2.2h-2.1zM186.6,426.9h2.1v2.2h-2.1zM186.6,431.3h2.1v2.2h-2.1zM188.8,365.3h2.1v2.2h-2.1zM188.8,369.7h2.1v2.2h-2.1zM188.8,374.1h2.1v2.2h-2.1zM188.8,378.5h2.1v2.2h-2.1zM188.8,382.9h2.1v2.2h-2.1zM188.8,387.3h2.1v2.2h-2.1zM188.8,391.7h2.1v2.2h-2.1zM188.8,396.1h2.1v2.2h-2.1zM188.8,400.5h2.1v2.2h-2.1zM188.8,409.3h2.1v2.2h-2.1zM188.8,418.1h2.1v2.2h-2.1zM188.8,422.5h2.1v2.2h-2.1zM188.8,426.9h2.1v2.2h-2.1zM188.8,431.3h2.1v2.2h-2.1zM191.0,360.9h2.1v2.2h-2.1zM191.0,365.3h2.1v2.2h-2.1zM191.0,374.1h2.1v2.2h-2.1zM191.0,378.5h2.1v2.2h-2.1zM191.0,382.9h2.1v2.2h-2.1zM191.0,387.3h2.1v2.2h-2.1zM191.0,396.1h2.1v2.2h-2.1zM191.0,400.5h2.1v2.2h-2.1zM191.0,404.9h2.1v2.2h-2.1zM191.0,409.3h2.1v2.2h-2.1zM191.0,413.7h2.1v2.2h-2.1zM191.0,418.1h2.1v2.2h-2.1zM192.1,352.1h2.1v2.2h-2.1zM192.1,356.5h2.1v2.2h-2.1zM192.1,365.3h2.1v2.2h-2.1zM192.1,374.1h2.1v2.2h-2.1zM192.1,378.5h2.1v2.2h-2.1zM192.1,382.9h2.1v2.2h-2.1zM192.1,387.3h2.1v2.2h-2.1zM192.1,391.7h2.1v2.2h-2.1zM192.1,400.5h2.1v2.2h-2.1zM192.1,404.9h2.1v2.2h-2.1zM193.2,374.1h2.1v2.2h-2.1zM193.2,378.5h2.1v2.2h-2.1zM193.2,382.9h2.1v2.2h-2.1zM193.2,387.3h2.1v2.2h-2.1zM193.2,391.7h2.1v2.2h-2.1zM193.2,396.1h2.1v2.2h-2.1zM193.2,400.5h2.1v2.2h-2.1zM193.2,404.9h2.1v2.2h-2.1zM193.2,409.3h2.1v2.2h-2.1zM194.3,365.3h2.1v2.2h-2.1zM194.3,369.7h2.1v2.2h-2.1zM194.3,374.1h2.1v2.2h-2.1zM194.3,378.5h2.1v2.2h-2.1zM194.3,382.9h2.1v2.2h-2.1zM194.3,387.3h2.1v2.2h-2.1zM194.3,391.7h2.1v2.2h-2.1zM194.3,396.1h2.1v2.2h-2.1zM194.3,400.5h2.1v2.2h-2.1zM194.3,404.9h2.1v2.2h-2.1zM194.3,413.7h2.1v2.2h-2.1zM194.3,418.1h2.1v2.2h-2.1zM194.3,422.5h2.1v2.2h-2.1zM194.3,426.9h2.1v2.2h-2.1zM195.4,343.3h2.1v2.2h-2.1zM195.4,369.7h2.1v2.2h-2.1zM195.4,374.1h2.1v2.2h-2.1zM195.4,378.5h2.1v2.2h-2.1zM195.4,382.9h2.1v2.2h-2.1zM195.4,387.3h2.1v2.2h-2.1zM195.4,391.7h2.1v2.2h-2.1zM195.4,396.1h2.1v2.2h-2.1zM195.4,404.9h2.1v2.2h-2.1zM195.4,409.3h2.1v2.2h-2.1zM195.4,413.7h2.1v2.2h-2.1zM195.4,418.1h2.1v2.2h-2.1zM195.4,422.5h2.1v2.2h-2.1zM195.4,426.9h2.1v2.2h-2.1zM196.5,356.5h2.1v2.2h-2.1zM196.5,365.3h2.1v2.2h-2.1zM196.5,369.7h2.1v2.2h-2.1zM196.5,374.1h2.1v2.2h-2.1zM196.5,378.5h2.1v2.2h-2.1zM196.5,387.3h2.1v2.2h-2.1zM196.5,391.7h2.1v2.2h-2.1zM196.5,396.1h2.1v2.2h-2.1zM196.5,400.5h2.1v2.2h-2.1zM196.5,404.9h2.1v2.2h-2.1zM197.6,369.7h2.1v2.2h-2.1zM197.6,374.1h2.1v2.2h-2.1zM197.6,378.5h2.1v2.2h-2.1zM197.6,382.9h2.1v2.2h-2.1zM197.6,387.3h2.1v2.2h-2.1zM197.6,391.7h2.1v2.2h-2.1zM197.6,396.1h2.1v2.2h-2.1zM197.6,404.9h2.1v2.2h-2.1zM197.6,409.3h2.1v2.2h-2.1zM197.6,413.7h2.1v2.2h-2.1zM198.8,343.3h2.1v2.2h-2.1zM198.8,347.7h2.1v2.2h-2.1zM198.8,352.1h2.1v2.2h-2.1zM198.8,356.5h2.1v2.2h-2.1zM198.8,360.9h2.1v2.2h-2.1zM198.8,365.3h2.1v2.2h-2.1zM198.8,374.1h2.1v2.2h-2.1zM198.8,378.5h2.1v2.2h-2.1zM198.8,382.9h2.1v2.2h-2.1zM198.8,387.3h2.1v2.2h-2.1zM198.8,396.1h2.1v2.2h-2.1zM198.8,400.5h2.1v2.2h-2.1zM198.8,404.9h2.1v2.2h-2.1zM198.8,409.3h2.1v2.2h-2.1zM198.8,413.7h2.1v2.2h-2.1zM198.8,418.1h2.1v2.2h-2.1zM199.8,347.7h2.1v2.2h-2.1zM199.8,356.5h2.1v2.2h-2.1zM199.8,360.9h2.1v2.2h-2.1zM199.8,365.3h2.1v2.2h-2.1zM199.8,374.1h2.1v2.2h-2.1zM199.8,378.5h2.1v2.2h-2.1zM199.8,382.9h2.1v2.2h-2.1zM199.8,387.3h2.1v2.2h-2.1zM199.8,391.7h2.1v2.2h-2.1zM199.8,396.1h2.1v2.2h-2.1zM199.8,400.5h2.1v2.2h-2.1zM199.8,404.9h2.1v2.2h-2.1zM199.8,413.7h2.1v2.2h-2.1zM199.8,418.1h2.1v2.2h-2.1zM199.8,422.5h2.1v2.2h-2.1zM200.9,374.1h2.1v2.2h-2.1zM200.9,382.9h2.1v2.2h-2.1zM200.9,387.3h2.1v2.2h-2.1zM200.9,391.7h2.1v2.2h-2.1zM200.9,396.1h2.1v2.2h-2.1zM200.9,400.5h2.1v2.2h-2.1zM200.9,404.9h2.1v2.2h-2.1zM200.9,413.7h2.1v2.2h-2.1zM202.0,360.9h2.1v2.2h-2.1zM202.0,378.5h2.1v2.2h-2.1zM202.0,387.3h2.1v2.2h-2.1zM202.0,391.7h2.1v2.2h-2.1zM202.0,396.1h2.1v2.2h-2.1zM202.0,400.5h2.1v2.2h-2.1zM202.0,409.3h2.1v2.2h-2.1zM202.0,413.7h2.1v2.2h-2.1zM202.0,418.1h2.1v2.2h-2.1zM203.1,334.5h2.1v2.2h-2.1zM203.1,338.9h2.1v2.2h-2.1zM203.1,347.7h2.1v2.2h-2.1zM203.1,352.1h2.1v2.2h-2.1zM203.1,356.5h2.1v2.2h-2.1zM203.1,360.9h2.1v2.2h-2.1zM203.1,369.7h2.1v2.2h-2.1zM203.1,374.1h2.1v2.2h-2.1zM203.1,378.5h2.1v2.2h-2.1zM203.1,382.9h2.1v2.2h-2.1zM203.1,387.3h2.1v2.2h-2.1zM203.1,391.7h2.1v2.2h-2.1zM203.1,396.1h2.1v2.2h-2.1zM203.1,404.9h2.1v2.2h-2.1zM203.1,409.3h2.1v2.2h-2.1zM204.2,330.1h2.1v2.2h-2.1zM204.2,334.5h2.1v2.2h-2.1zM204.2,347.7h2.1v2.2h-2.1zM204.2,352.1h2.1v2.2h-2.1zM204.2,356.5h2.1v2.2h-2.1zM204.2,360.9h2.1v2.2h-2.1zM204.2,365.3h2.1v2.2h-2.1zM204.2,374.1h2.1v2.2h-2.1zM204.2,378.5h2.1v2.2h-2.1zM204.2,382.9h2.1v2.2h-2.1zM204.2,387.3h2.1v2.2h-2.1zM204.2,391.7h2.1v2.2h-2.1zM204.2,396.1h2.1v2.2h-2.1zM204.2,400.5h2.1v2.2h-2.1zM204.2,404.9h2.1v2.2h-2.1zM204.2,409.3h2.1v2.2h-2.1zM204.2,413.7h2.1v2.2h-2.1zM206.4,338.9h2.1v2.2h-2.1zM206.4,343.3h2.1v2.2h-2.1zM206.4,352.1h2.1v2.2h-2.1zM206.4,356.5h2.1v2.2h-2.1zM206.4,360.9h2.1v2.2h-2.1zM206.4,365.3h2.1v2.2h-2.1zM206.4,369.7h2.1v2.2h-2.1zM206.4,374.1h2.1v2.2h-2.1zM206.4,378.5h2.1v2.2h-2.1zM206.4,382.9h2.1v2.2h-2.1zM206.4,387.3h2.1v2.2h-2.1zM206.4,391.7h2.1v2.2h-2.1zM206.4,396.1h2.1v2.2h-2.1zM206.4,400.5h2.1v2.2h-2.1zM206.4,404.9h2.1v2.2h-2.1zM206.4,413.7h2.1v2.2h-2.1zM206.4,422.5h2.1v2.2h-2.1zM207.5,352.1h2.1v2.2h-2.1zM207.5,356.5h2.1v2.2h-2.1zM207.5,360.9h2.1v2.2h-2.1zM207.5,369.7h2.1v2.2h-2.1zM207.5,374.1h2.1v2.2h-2.1zM207.5,378.5h2.1v2.2h-2.1zM207.5,382.9h2.1v2.2h-2.1zM207.5,387.3h2.1v2.2h-2.1zM207.5,391.7h2.1v2.2h-2.1zM207.5,396.1h2.1v2.2h-2.1zM207.5,400.5h2.1v2.2h-2.1zM207.5,404.9h2.1v2.2h-2.1zM207.5,409.3h2.1v2.2h-2.1zM208.6,360.9h2.1v2.2h-2.1zM208.6,369.7h2.1v2.2h-2.1zM208.6,374.1h2.1v2.2h-2.1zM208.6,378.5h2.1v2.2h-2.1zM208.6,382.9h2.1v2.2h-2.1zM208.6,387.3h2.1v2.2h-2.1zM208.6,396.1h2.1v2.2h-2.1zM208.6,400.5h2.1v2.2h-2.1zM208.6,404.9h2.1v2.2h-2.1zM208.6,409.3h2.1v2.2h-2.1zM208.6,418.1h2.1v2.2h-2.1zM208.6,426.9h2.1v2.2h-2.1zM210.8,338.9h2.1v2.2h-2.1zM210.8,343.3h2.1v2.2h-2.1zM210.8,356.5h2.1v2.2h-2.1zM210.8,360.9h2.1v2.2h-2.1zM210.8,365.3h2.1v2.2h-2.1zM210.8,369.7h2.1v2.2h-2.1zM210.8,374.1h2.1v2.2h-2.1zM210.8,378.5h2.1v2.2h-2.1zM210.8,382.9h2.1v2.2h-2.1zM210.8,387.3h2.1v2.2h-2.1zM211.9,347.7h2.1v2.2h-2.1zM211.9,352.1h2.1v2.2h-2.1zM211.9,356.5h2.1v2.2h-2.1zM211.9,360.9h2.1v2.2h-2.1zM211.9,365.3h2.1v2.2h-2.1zM211.9,369.7h2.1v2.2h-2.1zM211.9,374.1h2.1v2.2h-2.1zM211.9,378.5h2.1v2.2h-2.1zM211.9,382.9h2.1v2.2h-2.1zM211.9,387.3h2.1v2.2h-2.1zM211.9,391.7h2.1v2.2h-2.1zM211.9,396.1h2.1v2.2h-2.1zM211.9,400.5h2.1v2.2h-2.1zM211.9,404.9h2.1v2.2h-2.1zM211.9,409.3h2.1v2.2h-2.1zM211.9,418.1h2.1v2.2h-2.1zM213.0,316.9h2.1v2.2h-2.1zM213.0,325.7h2.1v2.2h-2.1zM213.0,330.1h2.1v2.2h-2.1zM213.0,334.5h2.1v2.2h-2.1zM213.0,338.9h2.1v2.2h-2.1zM213.0,347.7h2.1v2.2h-2.1zM213.0,352.1h2.1v2.2h-2.1zM213.0,356.5h2.1v2.2h-2.1zM213.0,360.9h2.1v2.2h-2.1zM213.0,365.3h2.1v2.2h-2.1zM213.0,374.1h2.1v2.2h-2.1zM213.0,378.5h2.1v2.2h-2.1zM213.0,382.9h2.1v2.2h-2.1zM213.0,387.3h2.1v2.2h-2.1zM213.0,391.7h2.1v2.2h-2.1zM213.0,396.1h2.1v2.2h-2.1zM213.0,400.5h2.1v2.2h-2.1zM213.0,418.1h2.1v2.2h-2.1zM213.0,422.5h2.1v2.2h-2.1zM214.1,352.1h2.1v2.2h-2.1zM214.1,360.9h2.1v2.2h-2.1zM214.1,369.7h2.1v2.2h-2.1zM214.1,374.1h2.1v2.2h-2.1zM214.1,378.5h2.1v2.2h-2.1zM214.1,382.9h2.1v2.2h-2.1zM214.1,387.3h2.1v2.2h-2.1zM214.1,391.7h2.1v2.2h-2.1zM214.1,396.1h2.1v2.2h-2.1zM214.1,400.5h2.1v2.2h-2.1zM214.1,404.9h2.1v2.2h-2.1zM214.1,413.7h2.1v2.2h-2.1zM214.1,418.1h2.1v2.2h-2.1zM216.3,347.7h2.1v2.2h-2.1zM216.3,356.5h2.1v2.2h-2.1zM216.3,360.9h2.1v2.2h-2.1zM216.3,365.3h2.1v2.2h-2.1zM216.3,369.7h2.1v2.2h-2.1zM216.3,374.1h2.1v2.2h-2.1zM216.3,378.5h2.1v2.2h-2.1zM216.3,382.9h2.1v2.2h-2.1zM216.3,391.7h2.1v2.2h-2.1zM216.3,396.1h2.1v2.2h-2.1zM216.3,400.5h2.1v2.2h-2.1zM216.3,413.7h2.1v2.2h-2.1zM218.5,334.5h2.1v2.2h-2.1zM218.5,338.9h2.1v2.2h-2.1zM218.5,343.3h2.1v2.2h-2.1zM218.5,347.7h2.1v2.2h-2.1zM218.5,352.1h2.1v2.2h-2.1zM218.5,356.5h2.1v2.2h-2.1zM218.5,360.9h2.1v2.2h-2.1zM218.5,369.7h2.1v2.2h-2.1zM218.5,374.1h2.1v2.2h-2.1zM218.5,378.5h2.1v2.2h-2.1zM218.5,382.9h2.1v2.2h-2.1zM218.5,387.3h2.1v2.2h-2.1zM218.5,391.7h2.1v2.2h-2.1zM218.5,396.1h2.1v2.2h-2.1zM218.5,404.9h2.1v2.2h-2.1zM218.5,418.1h2.1v2.2h-2.1zM218.5,422.5h2.1v2.2h-2.1zM218.5,426.9h2.1v2.2h-2.1zM220.8,325.7h2.1v2.2h-2.1zM220.8,334.5h2.1v2.2h-2.1zM220.8,338.9h2.1v2.2h-2.1zM220.8,347.7h2.1v2.2h-2.1zM220.8,352.1h2.1v2.2h-2.1zM220.8,356.5h2.1v2.2h-2.1zM220.8,360.9h2.1v2.2h-2.1zM220.8,365.3h2.1v2.2h-2.1zM220.8,369.7h2.1v2.2h-2.1zM220.8,374.1h2.1v2.2h-2.1zM220.8,378.5h2.1v2.2h-2.1zM220.8,382.9h2.1v2.2h-2.1zM220.8,387.3h2.1v2.2h-2.1zM220.8,391.7h2.1v2.2h-2.1zM220.8,396.1h2.1v2.2h-2.1zM220.8,400.5h2.1v2.2h-2.1zM220.8,404.9h2.1v2.2h-2.1zM220.8,409.3h2.1v2.2h-2.1zM222.9,303.7h2.1v2.2h-2.1zM222.9,325.7h2.1v2.2h-2.1zM222.9,334.5h2.1v2.2h-2.1zM222.9,343.3h2.1v2.2h-2.1zM222.9,356.5h2.1v2.2h-2.1zM222.9,360.9h2.1v2.2h-2.1zM222.9,365.3h2.1v2.2h-2.1zM222.9,369.7h2.1v2.2h-2.1zM222.9,374.1h2.1v2.2h-2.1zM222.9,378.5h2.1v2.2h-2.1zM222.9,382.9h2.1v2.2h-2.1zM222.9,387.3h2.1v2.2h-2.1zM222.9,391.7h2.1v2.2h-2.1zM222.9,396.1h2.1v2.2h-2.1zM222.9,400.5h2.1v2.2h-2.1zM222.9,404.9h2.1v2.2h-2.1zM222.9,413.7h2.1v2.2h-2.1zM222.9,418.1h2.1v2.2h-2.1zM224.0,321.3h2.1v2.2h-2.1zM224.0,334.5h2.1v2.2h-2.1zM224.0,338.9h2.1v2.2h-2.1zM224.0,347.7h2.1v2.2h-2.1zM224.0,352.1h2.1v2.2h-2.1zM224.0,356.5h2.1v2.2h-2.1zM224.0,360.9h2.1v2.2h-2.1zM224.0,365.3h2.1v2.2h-2.1zM224.0,369.7h2.1v2.2h-2.1zM224.0,374.1h2.1v2.2h-2.1zM224.0,378.5h2.1v2.2h-2.1zM224.0,382.9h2.1v2.2h-2.1zM224.0,387.3h2.1v2.2h-2.1zM224.0,391.7h2.1v2.2h-2.1zM224.0,396.1h2.1v2.2h-2.1zM224.0,400.5h2.1v2.2h-2.1zM224.0,404.9h2.1v2.2h-2.1zM226.2,316.9h2.1v2.2h-2.1zM226.2,321.3h2.1v2.2h-2.1zM226.2,338.9h2.1v2.2h-2.1zM226.2,343.3h2.1v2.2h-2.1zM226.2,347.7h2.1v2.2h-2.1zM226.2,356.5h2.1v2.2h-2.1zM226.2,360.9h2.1v2.2h-2.1zM226.2,365.3h2.1v2.2h-2.1zM226.2,369.7h2.1v2.2h-2.1zM226.2,374.1h2.1v2.2h-2.1zM226.2,378.5h2.1v2.2h-2.1zM226.2,382.9h2.1v2.2h-2.1zM226.2,387.3h2.1v2.2h-2.1zM227.3,356.5h2.1v2.2h-2.1zM227.3,360.9h2.1v2.2h-2.1zM227.3,369.7h2.1v2.2h-2.1zM227.3,374.1h2.1v2.2h-2.1zM227.3,378.5h2.1v2.2h-2.1zM227.3,382.9h2.1v2.2h-2.1zM227.3,387.3h2.1v2.2h-2.1zM227.3,391.7h2.1v2.2h-2.1zM228.4,303.7h2.1v2.2h-2.1zM228.4,312.5h2.1v2.2h-2.1zM228.4,330.1h2.1v2.2h-2.1zM228.4,334.5h2.1v2.2h-2.1zM228.4,338.9h2.1v2.2h-2.1zM228.4,343.3h2.1v2.2h-2.1zM228.4,352.1h2.1v2.2h-2.1zM228.4,356.5h2.1v2.2h-2.1zM228.4,360.9h2.1v2.2h-2.1zM228.4,365.3h2.1v2.2h-2.1zM228.4,369.7h2.1v2.2h-2.1zM228.4,374.1h2.1v2.2h-2.1zM228.4,378.5h2.1v2.2h-2.1zM228.4,382.9h2.1v2.2h-2.1zM228.4,387.3h2.1v2.2h-2.1zM228.4,391.7h2.1v2.2h-2.1zM228.4,396.1h2.1v2.2h-2.1zM228.4,404.9h2.1v2.2h-2.1zM228.4,409.3h2.1v2.2h-2.1zM228.4,413.7h2.1v2.2h-2.1zM228.4,418.1h2.1v2.2h-2.1zM230.6,303.7h2.1v2.2h-2.1zM230.6,316.9h2.1v2.2h-2.1zM230.6,321.3h2.1v2.2h-2.1zM230.6,325.7h2.1v2.2h-2.1zM230.6,330.1h2.1v2.2h-2.1zM230.6,343.3h2.1v2.2h-2.1zM230.6,352.1h2.1v2.2h-2.1zM230.6,356.5h2.1v2.2h-2.1zM230.6,360.9h2.1v2.2h-2.1zM230.6,365.3h2.1v2.2h-2.1zM230.6,369.7h2.1v2.2h-2.1zM230.6,374.1h2.1v2.2h-2.1zM230.6,378.5h2.1v2.2h-2.1zM230.6,382.9h2.1v2.2h-2.1zM230.6,387.3h2.1v2.2h-2.1zM230.6,396.1h2.1v2.2h-2.1zM230.6,400.5h2.1v2.2h-2.1zM231.8,312.5h2.1v2.2h-2.1zM231.8,321.3h2.1v2.2h-2.1zM231.8,330.1h2.1v2.2h-2.1zM231.8,338.9h2.1v2.2h-2.1zM231.8,343.3h2.1v2.2h-2.1zM231.8,347.7h2.1v2.2h-2.1zM231.8,352.1h2.1v2.2h-2.1zM231.8,356.5h2.1v2.2h-2.1zM231.8,360.9h2.1v2.2h-2.1zM231.8,365.3h2.1v2.2h-2.1zM231.8,369.7h2.1v2.2h-2.1zM231.8,374.1h2.1v2.2h-2.1zM231.8,378.5h2.1v2.2h-2.1zM231.8,382.9h2.1v2.2h-2.1zM231.8,387.3h2.1v2.2h-2.1zM231.8,391.7h2.1v2.2h-2.1zM231.8,396.1h2.1v2.2h-2.1zM231.8,404.9h2.1v2.2h-2.1zM231.8,409.3h2.1v2.2h-2.1zM233.9,334.5h2.1v2.2h-2.1zM233.9,338.9h2.1v2.2h-2.1zM233.9,343.3h2.1v2.2h-2.1zM233.9,347.7h2.1v2.2h-2.1zM233.9,352.1h2.1v2.2h-2.1zM233.9,356.5h2.1v2.2h-2.1zM233.9,360.9h2.1v2.2h-2.1zM233.9,365.3h2.1v2.2h-2.1zM233.9,369.7h2.1v2.2h-2.1zM233.9,374.1h2.1v2.2h-2.1zM233.9,378.5h2.1v2.2h-2.1zM233.9,387.3h2.1v2.2h-2.1zM233.9,391.7h2.1v2.2h-2.1zM236.1,321.3h2.1v2.2h-2.1zM236.1,330.1h2.1v2.2h-2.1zM236.1,334.5h2.1v2.2h-2.1zM236.1,338.9h2.1v2.2h-2.1zM236.1,347.7h2.1v2.2h-2.1zM236.1,352.1h2.1v2.2h-2.1zM236.1,356.5h2.1v2.2h-2.1zM236.1,360.9h2.1v2.2h-2.1zM236.1,365.3h2.1v2.2h-2.1zM236.1,369.7h2.1v2.2h-2.1zM236.1,374.1h2.1v2.2h-2.1zM236.1,378.5h2.1v2.2h-2.1zM236.1,387.3h2.1v2.2h-2.1zM236.1,391.7h2.1v2.2h-2.1zM236.1,400.5h2.1v2.2h-2.1zM236.1,413.7h2.1v2.2h-2.1zM236.1,418.1h2.1v2.2h-2.1zM237.2,352.1h2.1v2.2h-2.1zM237.2,356.5h2.1v2.2h-2.1zM237.2,360.9h2.1v2.2h-2.1zM237.2,365.3h2.1v2.2h-2.1zM237.2,369.7h2.1v2.2h-2.1zM237.2,374.1h2.1v2.2h-2.1zM237.2,382.9h2.1v2.2h-2.1zM237.2,387.3h2.1v2.2h-2.1zM237.2,396.1h2.1v2.2h-2.1zM237.2,400.5h2.1v2.2h-2.1zM237.2,404.9h2.1v2.2h-2.1zM238.3,308.1h2.1v2.2h-2.1zM238.3,321.3h2.1v2.2h-2.1zM238.3,325.7h2.1v2.2h-2.1zM238.3,334.5h2.1v2.2h-2.1zM238.3,338.9h2.1v2.2h-2.1zM238.3,343.3h2.1v2.2h-2.1zM238.3,347.7h2.1v2.2h-2.1zM238.3,352.1h2.1v2.2h-2.1zM238.3,356.5h2.1v2.2h-2.1zM238.3,360.9h2.1v2.2h-2.1zM238.3,365.3h2.1v2.2h-2.1zM238.3,369.7h2.1v2.2h-2.1zM238.3,374.1h2.1v2.2h-2.1zM238.3,378.5h2.1v2.2h-2.1zM238.3,382.9h2.1v2.2h-2.1zM238.3,387.3h2.1v2.2h-2.1zM238.3,391.7h2.1v2.2h-2.1zM238.3,396.1h2.1v2.2h-2.1zM238.3,404.9h2.1v2.2h-2.1zM238.3,409.3h2.1v2.2h-2.1zM240.5,321.3h2.1v2.2h-2.1zM240.5,325.7h2.1v2.2h-2.1zM240.5,338.9h2.1v2.2h-2.1zM240.5,343.3h2.1v2.2h-2.1zM240.5,347.7h2.1v2.2h-2.1zM240.5,352.1h2.1v2.2h-2.1zM240.5,360.9h2.1v2.2h-2.1zM240.5,365.3h2.1v2.2h-2.1zM240.5,369.7h2.1v2.2h-2.1zM240.5,374.1h2.1v2.2h-2.1zM242.8,356.5h2.1v2.2h-2.1zM242.8,360.9h2.1v2.2h-2.1zM242.8,365.3h2.1v2.2h-2.1zM242.8,369.7h2.1v2.2h-2.1zM242.8,374.1h2.1v2.2h-2.1zM242.8,382.9h2.1v2.2h-2.1zM242.8,387.3h2.1v2.2h-2.1zM242.8,400.5h2.1v2.2h-2.1zM242.8,404.9h2.1v2.2h-2.1zM243.8,334.5h2.1v2.2h-2.1zM243.8,338.9h2.1v2.2h-2.1zM243.8,343.3h2.1v2.2h-2.1zM243.8,347.7h2.1v2.2h-2.1zM243.8,352.1h2.1v2.2h-2.1zM243.8,356.5h2.1v2.2h-2.1zM243.8,360.9h2.1v2.2h-2.1zM243.8,365.3h2.1v2.2h-2.1zM243.8,369.7h2.1v2.2h-2.1zM243.8,374.1h2.1v2.2h-2.1zM243.8,378.5h2.1v2.2h-2.1zM243.8,382.9h2.1v2.2h-2.1zM243.8,387.3h2.1v2.2h-2.1zM243.8,391.7h2.1v2.2h-2.1zM243.8,396.1h2.1v2.2h-2.1zM243.8,400.5h2.1v2.2h-2.1zM246.0,303.7h2.1v2.2h-2.1zM246.0,316.9h2.1v2.2h-2.1zM246.0,325.7h2.1v2.2h-2.1zM246.0,338.9h2.1v2.2h-2.1zM246.0,343.3h2.1v2.2h-2.1zM246.0,347.7h2.1v2.2h-2.1zM246.0,352.1h2.1v2.2h-2.1zM246.0,356.5h2.1v2.2h-2.1zM246.0,360.9h2.1v2.2h-2.1zM246.0,365.3h2.1v2.2h-2.1zM246.0,369.7h2.1v2.2h-2.1zM246.0,374.1h2.1v2.2h-2.1zM246.0,382.9h2.1v2.2h-2.1zM246.0,391.7h2.1v2.2h-2.1zM246.0,396.1h2.1v2.2h-2.1zM246.0,400.5h2.1v2.2h-2.1zM246.0,418.1h2.1v2.2h-2.1zM247.1,290.5h2.1v2.2h-2.1zM247.1,308.1h2.1v2.2h-2.1zM247.1,316.9h2.1v2.2h-2.1zM247.1,325.7h2.1v2.2h-2.1zM247.1,330.1h2.1v2.2h-2.1zM247.1,334.5h2.1v2.2h-2.1zM247.1,338.9h2.1v2.2h-2.1zM247.1,347.7h2.1v2.2h-2.1zM247.1,352.1h2.1v2.2h-2.1zM247.1,360.9h2.1v2.2h-2.1zM247.1,369.7h2.1v2.2h-2.1zM247.1,374.1h2.1v2.2h-2.1zM247.1,378.5h2.1v2.2h-2.1zM247.1,391.7h2.1v2.2h-2.1zM247.1,396.1h2.1v2.2h-2.1zM247.1,400.5h2.1v2.2h-2.1zM248.2,325.7h2.1v2.2h-2.1zM248.2,330.1h2.1v2.2h-2.1zM248.2,334.5h2.1v2.2h-2.1zM248.2,338.9h2.1v2.2h-2.1zM248.2,343.3h2.1v2.2h-2.1zM248.2,347.7h2.1v2.2h-2.1zM248.2,352.1h2.1v2.2h-2.1zM248.2,356.5h2.1v2.2h-2.1zM248.2,360.9h2.1v2.2h-2.1zM248.2,365.3h2.1v2.2h-2.1zM248.2,369.7h2.1v2.2h-2.1zM248.2,374.1h2.1v2.2h-2.1zM248.2,378.5h2.1v2.2h-2.1zM248.2,382.9h2.1v2.2h-2.1zM248.2,391.7h2.1v2.2h-2.1zM248.2,396.1h2.1v2.2h-2.1zM248.2,400.5h2.1v2.2h-2.1zM250.4,343.3h2.1v2.2h-2.1zM250.4,347.7h2.1v2.2h-2.1zM250.4,352.1h2.1v2.2h-2.1zM250.4,356.5h2.1v2.2h-2.1zM250.4,360.9h2.1v2.2h-2.1zM250.4,365.3h2.1v2.2h-2.1zM250.4,369.7h2.1v2.2h-2.1zM250.4,378.5h2.1v2.2h-2.1zM250.4,382.9h2.1v2.2h-2.1zM250.4,387.3h2.1v2.2h-2.1zM250.4,391.7h2.1v2.2h-2.1zM250.4,396.1h2.1v2.2h-2.1zM250.4,409.3h2.1v2.2h-2.1zM251.5,316.9h2.1v2.2h-2.1zM251.5,325.7h2.1v2.2h-2.1zM251.5,334.5h2.1v2.2h-2.1zM251.5,338.9h2.1v2.2h-2.1zM251.5,343.3h2.1v2.2h-2.1zM251.5,347.7h2.1v2.2h-2.1zM251.5,352.1h2.1v2.2h-2.1zM251.5,356.5h2.1v2.2h-2.1zM251.5,360.9h2.1v2.2h-2.1zM251.5,365.3h2.1v2.2h-2.1zM251.5,369.7h2.1v2.2h-2.1zM251.5,374.1h2.1v2.2h-2.1zM251.5,378.5h2.1v2.2h-2.1zM251.5,382.9h2.1v2.2h-2.1zM251.5,387.3h2.1v2.2h-2.1zM251.5,391.7h2.1v2.2h-2.1zM251.5,400.5h2.1v2.2h-2.1zM251.5,404.9h2.1v2.2h-2.1zM252.6,338.9h2.1v2.2h-2.1zM252.6,343.3h2.1v2.2h-2.1zM252.6,347.7h2.1v2.2h-2.1zM252.6,352.1h2.1v2.2h-2.1zM252.6,360.9h2.1v2.2h-2.1zM252.6,365.3h2.1v2.2h-2.1zM252.6,369.7h2.1v2.2h-2.1zM252.6,382.9h2.1v2.2h-2.1zM252.6,387.3h2.1v2.2h-2.1zM254.8,316.9h2.1v2.2h-2.1zM254.8,321.3h2.1v2.2h-2.1zM254.8,325.7h2.1v2.2h-2.1zM254.8,334.5h2.1v2.2h-2.1zM254.8,338.9h2.1v2.2h-2.1zM254.8,343.3h2.1v2.2h-2.1zM254.8,347.7h2.1v2.2h-2.1zM254.8,352.1h2.1v2.2h-2.1zM254.8,356.5h2.1v2.2h-2.1zM254.8,360.9h2.1v2.2h-2.1zM254.8,365.3h2.1v2.2h-2.1zM254.8,369.7h2.1v2.2h-2.1zM254.8,374.1h2.1v2.2h-2.1zM254.8,378.5h2.1v2.2h-2.1zM254.8,387.3h2.1v2.2h-2.1zM254.8,391.7h2.1v2.2h-2.1zM255.9,294.9h2.1v2.2h-2.1zM255.9,308.1h2.1v2.2h-2.1zM255.9,321.3h2.1v2.2h-2.1zM255.9,330.1h2.1v2.2h-2.1zM255.9,334.5h2.1v2.2h-2.1zM255.9,338.9h2.1v2.2h-2.1zM255.9,343.3h2.1v2.2h-2.1zM255.9,347.7h2.1v2.2h-2.1zM255.9,352.1h2.1v2.2h-2.1zM255.9,356.5h2.1v2.2h-2.1zM255.9,360.9h2.1v2.2h-2.1zM255.9,365.3h2.1v2.2h-2.1zM255.9,369.7h2.1v2.2h-2.1zM255.9,374.1h2.1v2.2h-2.1zM255.9,378.5h2.1v2.2h-2.1zM255.9,382.9h2.1v2.2h-2.1zM255.9,387.3h2.1v2.2h-2.1zM255.9,391.7h2.1v2.2h-2.1zM255.9,404.9h2.1v2.2h-2.1zM257.1,286.1h2.1v2.2h-2.1zM257.1,290.5h2.1v2.2h-2.1zM257.1,294.9h2.1v2.2h-2.1zM257.1,299.3h2.1v2.2h-2.1zM257.1,303.7h2.1v2.2h-2.1zM257.1,308.1h2.1v2.2h-2.1zM257.1,312.5h2.1v2.2h-2.1zM257.1,316.9h2.1v2.2h-2.1zM257.1,330.1h2.1v2.2h-2.1zM257.1,334.5h2.1v2.2h-2.1zM257.1,343.3h2.1v2.2h-2.1zM257.1,347.7h2.1v2.2h-2.1zM257.1,352.1h2.1v2.2h-2.1zM257.1,356.5h2.1v2.2h-2.1zM257.1,360.9h2.1v2.2h-2.1zM257.1,365.3h2.1v2.2h-2.1zM257.1,369.7h2.1v2.2h-2.1zM257.1,374.1h2.1v2.2h-2.1zM257.1,378.5h2.1v2.2h-2.1zM257.1,382.9h2.1v2.2h-2.1zM257.1,387.3h2.1v2.2h-2.1zM257.1,400.5h2.1v2.2h-2.1zM258.1,312.5h2.1v2.2h-2.1zM258.1,316.9h2.1v2.2h-2.1zM258.1,321.3h2.1v2.2h-2.1zM258.1,334.5h2.1v2.2h-2.1zM258.1,343.3h2.1v2.2h-2.1zM258.1,347.7h2.1v2.2h-2.1zM258.1,352.1h2.1v2.2h-2.1zM258.1,356.5h2.1v2.2h-2.1zM258.1,360.9h2.1v2.2h-2.1zM258.1,365.3h2.1v2.2h-2.1zM258.1,369.7h2.1v2.2h-2.1zM258.1,374.1h2.1v2.2h-2.1zM258.1,382.9h2.1v2.2h-2.1zM258.1,387.3h2.1v2.2h-2.1zM258.1,396.1h2.1v2.2h-2.1zM258.1,400.5h2.1v2.2h-2.1zM259.2,347.7h2.1v2.2h-2.1zM259.2,352.1h2.1v2.2h-2.1zM259.2,356.5h2.1v2.2h-2.1zM259.2,360.9h2.1v2.2h-2.1zM259.2,365.3h2.1v2.2h-2.1zM259.2,369.7h2.1v2.2h-2.1zM259.2,374.1h2.1v2.2h-2.1zM259.2,378.5h2.1v2.2h-2.1zM260.3,330.1h2.1v2.2h-2.1zM260.3,343.3h2.1v2.2h-2.1zM260.3,347.7h2.1v2.2h-2.1zM260.3,352.1h2.1v2.2h-2.1zM260.3,356.5h2.1v2.2h-2.1zM260.3,360.9h2.1v2.2h-2.1zM260.3,365.3h2.1v2.2h-2.1zM260.3,369.7h2.1v2.2h-2.1zM260.3,374.1h2.1v2.2h-2.1zM260.3,378.5h2.1v2.2h-2.1zM260.3,382.9h2.1v2.2h-2.1zM261.4,334.5h2.1v2.2h-2.1zM261.4,338.9h2.1v2.2h-2.1zM261.4,343.3h2.1v2.2h-2.1zM261.4,347.7h2.1v2.2h-2.1zM261.4,352.1h2.1v2.2h-2.1zM261.4,356.5h2.1v2.2h-2.1zM261.4,360.9h2.1v2.2h-2.1zM261.4,365.3h2.1v2.2h-2.1zM261.4,374.1h2.1v2.2h-2.1zM261.4,382.9h2.1v2.2h-2.1zM261.4,387.3h2.1v2.2h-2.1zM261.4,391.7h2.1v2.2h-2.1zM261.4,396.1h2.1v2.2h-2.1z" fill="#10109e"/>
<path d="M46.5,472.3 H62" stroke="#10109e" stroke-width="2.2"/>
<path d="M63.7,472.0 L78.1,462.4 L91.0,456.0 L103.8,443.0 L119.9,435.0 L132.7,431.9 L142.3,428.7 L148.8,425.5 L155.2,419.0 L163.2,409.4 L169.6,403.0 L172.8,399.8 L176.0,402.0 L179.3,398.8 L184.0,398.0 L193.7,395.0 L209.8,385.3 L225.8,375.7 L241.9,367.7 L248.0,365.5 L252.0,366.0 L258.0,362.0 L264.4,359.6" fill="none" stroke="#f39a9a" stroke-width="3" stroke-linejoin="round"/>
<line x1="54.4" y1="473.9" x2="264.4" y2="354.8" stroke="#22e622" stroke-width="2.6"/>
<circle cx="60.5" cy="290.4" r="2.8" fill="#1a1aa8"/>
<text x="68.4" y="295" font-size="14.35" text-anchor="start" font-style="normal" fill="#111" >Number of DWs detected</text>
<circle cx="60.5" cy="311.4" r="3.1" fill="#f08a8a"/>
<text x="68.4" y="313.6" font-size="14.35" text-anchor="start" font-style="normal" fill="#111" >Moving Average</text>
<line x1="53.2" y1="330.2" x2="62.6" y2="330.2" stroke="#22dd22" stroke-width="1.6"/>
<text x="68" y="331.8" font-size="14.35" text-anchor="start" font-style="normal" fill="#111" >Fit</text>
<text x="285.8" y="12.8" font-size="18" text-anchor="start" font-style="normal" fill="#111" >c)</text>
<defs><linearGradient id="gR" x1="0" x2="1" y1="0" y2="0"><stop offset="0" stop-color="#d9d9db" stop-opacity="0"/><stop offset="0.2" stop-color="#e4c0c3"/><stop offset="0.34" stop-color="#ea9aa0"/><stop offset="0.5" stop-color="#ee747c"/><stop offset="0.66" stop-color="#ea9aa0"/><stop offset="0.8" stop-color="#e4c0c3"/><stop offset="1" stop-color="#d9d9db" stop-opacity="0"/></linearGradient><linearGradient id="gB" x1="0" x2="1" y1="0" y2="0"><stop offset="0" stop-color="#d9d9db" stop-opacity="0"/><stop offset="0.2" stop-color="#bcbcee"/><stop offset="0.34" stop-color="#8e8ef8"/><stop offset="0.5" stop-color="#7878fd"/><stop offset="0.66" stop-color="#8e8ef8"/><stop offset="0.8" stop-color="#bcbcee"/><stop offset="1" stop-color="#d9d9db" stop-opacity="0"/></linearGradient></defs>
<rect x="332.6" y="28.6" width="296" height="20.2" fill="#d9d9db"/>
<text x="320.3" y="45.3" font-size="16.5" text-anchor="middle" fill="#111">I</text>
<rect x="453.5" y="28.6" width="52" height="20.2" fill="url(#gR)"/>
<g transform="translate(337.30,39.70) rotate(0)"><path d="M0,-6.9 L1.6,-2.2 L-1.6,-2.2 Z" fill="#000"/><ellipse cx="0" cy="-0.2" rx="2.5" ry="2.9" fill="#000"/><line x1="0" y1="0" x2="0" y2="6.2" stroke="#000" stroke-width="1.25"/></g>
<g transform="translate(351.40,39.70) rotate(0)"><path d="M0,-6.9 L1.6,-2.2 L-1.6,-2.2 Z" fill="#000"/><ellipse cx="0" cy="-0.2" rx="2.5" ry="2.9" fill="#000"/><line x1="0" y1="0" x2="0" y2="6.2" stroke="#000" stroke-width="1.25"/></g>
<g transform="translate(365.50,39.70) rotate(0)"><path d="M0,-6.9 L1.6,-2.2 L-1.6,-2.2 Z" fill="#000"/><ellipse cx="0" cy="-0.2" rx="2.5" ry="2.9" fill="#000"/><line x1="0" y1="0" x2="0" y2="6.2" stroke="#000" stroke-width="1.25"/></g>
<g transform="translate(379.60,39.70) rotate(0)"><path d="M0,-6.9 L1.6,-2.2 L-1.6,-2.2 Z" fill="#000"/><ellipse cx="0" cy="-0.2" rx="2.5" ry="2.9" fill="#000"/><line x1="0" y1="0" x2="0" y2="6.2" stroke="#000" stroke-width="1.25"/></g>
<g transform="translate(393.70,39.70) rotate(0)"><path d="M0,-6.9 L1.6,-2.2 L-1.6,-2.2 Z" fill="#000"/><ellipse cx="0" cy="-0.2" rx="2.5" ry="2.9" fill="#000"/><line x1="0" y1="0" x2="0" y2="6.2" stroke="#000" stroke-width="1.25"/></g>
<g transform="translate(407.80,39.70) rotate(0)"><path d="M0,-6.9 L1.6,-2.2 L-1.6,-2.2 Z" fill="#000"/><ellipse cx="0" cy="-0.2" rx="2.5" ry="2.9" fill="#000"/><line x1="0" y1="0" x2="0" y2="6.2" stroke="#000" stroke-width="1.25"/></g>
<g transform="translate(421.90,39.70) rotate(0)"><path d="M0,-6.9 L1.6,-2.2 L-1.6,-2.2 Z" fill="#000"/><ellipse cx="0" cy="-0.2" rx="2.5" ry="2.9" fill="#000"/><line x1="0" y1="0" x2="0" y2="6.2" stroke="#000" stroke-width="1.25"/></g>
<g transform="translate(436.00,39.70) rotate(0)"><path d="M0,-6.9 L1.6,-2.2 L-1.6,-2.2 Z" fill="#000"/><ellipse cx="0" cy="-0.2" rx="2.5" ry="2.9" fill="#000"/><line x1="0" y1="0" x2="0" y2="6.2" stroke="#000" stroke-width="1.25"/></g>
<g transform="translate(450.10,39.70) rotate(0)"><path d="M0,-6.9 L1.6,-2.2 L-1.6,-2.2 Z" fill="#000"/><ellipse cx="0" cy="-0.2" rx="2.5" ry="2.9" fill="#000"/><line x1="0" y1="0" x2="0" y2="6.2" stroke="#000" stroke-width="1.25"/></g>
<g transform="translate(464.20,39.70) rotate(30)"><path d="M0,-6.9 L1.6,-2.2 L-1.6,-2.2 Z" fill="#000"/><ellipse cx="0" cy="-0.2" rx="2.5" ry="2.9" fill="#000"/><line x1="0" y1="0" x2="0" y2="6.2" stroke="#000" stroke-width="1.25"/></g>
<g opacity="0.55"><path d="M482.45,34.59 A5.9,5.9 0 1 1 477.48,34.16" fill="none" stroke="#7a5a5e" stroke-width="3.4"/><path d="M475.70,35.40 L478.50,29.90 L481.30,35.40 Z" fill="#7a5a5e"/></g>
<g transform="translate(479.50,39.70) rotate(90)"><path d="M0,-6.9 L1.6,-2.2 L-1.6,-2.2 Z" fill="#000"/><ellipse cx="0" cy="-0.2" rx="2.5" ry="2.9" fill="#000"/><line x1="0" y1="0" x2="0" y2="6.2" stroke="#000" stroke-width="1.25"/></g>
<text x="480.1" y="13.6" font-size="9.5" text-anchor="middle" fill="#222">1</text>
<line x1="477.0" y1="16.9" x2="483.2" y2="16.9" stroke="#555" stroke-width="0.8"/>
<text x="480.1" y="25.6" font-size="9.5" text-anchor="middle" fill="#222">2</text>
<g transform="translate(495.50,39.70) rotate(150)"><path d="M0,-6.9 L1.6,-2.2 L-1.6,-2.2 Z" fill="#000"/><ellipse cx="0" cy="-0.2" rx="2.5" ry="2.9" fill="#000"/><line x1="0" y1="0" x2="0" y2="6.2" stroke="#000" stroke-width="1.25"/></g>
<g transform="translate(509.64,39.70) rotate(180)"><path d="M0,-6.9 L1.6,-2.2 L-1.6,-2.2 Z" fill="#000"/><ellipse cx="0" cy="-0.2" rx="2.5" ry="2.9" fill="#000"/><line x1="0" y1="0" x2="0" y2="6.2" stroke="#000" stroke-width="1.25"/></g>
<g transform="translate(523.78,39.70) rotate(180)"><path d="M0,-6.9 L1.6,-2.2 L-1.6,-2.2 Z" fill="#000"/><ellipse cx="0" cy="-0.2" rx="2.5" ry="2.9" fill="#000"/><line x1="0" y1="0" x2="0" y2="6.2" stroke="#000" stroke-width="1.25"/></g>
<g transform="translate(537.92,39.70) rotate(180)"><path d="M0,-6.9 L1.6,-2.2 L-1.6,-2.2 Z" fill="#000"/><ellipse cx="0" cy="-0.2" rx="2.5" ry="2.9" fill="#000"/><line x1="0" y1="0" x2="0" y2="6.2" stroke="#000" stroke-width="1.25"/></g>
<g transform="translate(552.06,39.70) rotate(180)"><path d="M0,-6.9 L1.6,-2.2 L-1.6,-2.2 Z" fill="#000"/><ellipse cx="0" cy="-0.2" rx="2.5" ry="2.9" fill="#000"/><line x1="0" y1="0" x2="0" y2="6.2" stroke="#000" stroke-width="1.25"/></g>
<g transform="translate(566.20,39.70) rotate(180)"><path d="M0,-6.9 L1.6,-2.2 L-1.6,-2.2 Z" fill="#000"/><ellipse cx="0" cy="-0.2" rx="2.5" ry="2.9" fill="#000"/><line x1="0" y1="0" x2="0" y2="6.2" stroke="#000" stroke-width="1.25"/></g>
<g transform="translate(580.34,39.70) rotate(180)"><path d="M0,-6.9 L1.6,-2.2 L-1.6,-2.2 Z" fill="#000"/><ellipse cx="0" cy="-0.2" rx="2.5" ry="2.9" fill="#000"/><line x1="0" y1="0" x2="0" y2="6.2" stroke="#000" stroke-width="1.25"/></g>
<g transform="translate(594.48,39.70) rotate(180)"><path d="M0,-6.9 L1.6,-2.2 L-1.6,-2.2 Z" fill="#000"/><ellipse cx="0" cy="-0.2" rx="2.5" ry="2.9" fill="#000"/><line x1="0" y1="0" x2="0" y2="6.2" stroke="#000" stroke-width="1.25"/></g>
<g transform="translate(608.62,39.70) rotate(180)"><path d="M0,-6.9 L1.6,-2.2 L-1.6,-2.2 Z" fill="#000"/><ellipse cx="0" cy="-0.2" rx="2.5" ry="2.9" fill="#000"/><line x1="0" y1="0" x2="0" y2="6.2" stroke="#000" stroke-width="1.25"/></g>
<g transform="translate(622.76,39.70) rotate(180)"><path d="M0,-6.9 L1.6,-2.2 L-1.6,-2.2 Z" fill="#000"/><ellipse cx="0" cy="-0.2" rx="2.5" ry="2.9" fill="#000"/><line x1="0" y1="0" x2="0" y2="6.2" stroke="#000" stroke-width="1.25"/></g>
<rect x="332.6" y="76.0" width="296" height="19.8" fill="#d9d9db"/>
<text x="320.3" y="92.5" font-size="16.5" text-anchor="middle" fill="#111">II</text>
<rect x="367.7" y="76.0" width="52" height="19.8" fill="url(#gR)"/>
<rect x="453.5" y="76.0" width="52" height="19.8" fill="url(#gB)"/>
<rect x="540.2" y="76.0" width="52" height="19.8" fill="url(#gB)"/>
<g transform="translate(337.30,86.90) rotate(0)"><path d="M0,-6.9 L1.6,-2.2 L-1.6,-2.2 Z" fill="#000"/><ellipse cx="0" cy="-0.2" rx="2.5" ry="2.9" fill="#000"/><line x1="0" y1="0" x2="0" y2="6.2" stroke="#000" stroke-width="1.25"/></g>
<g transform="translate(351.40,86.90) rotate(0)"><path d="M0,-6.9 L1.6,-2.2 L-1.6,-2.2 Z" fill="#000"/><ellipse cx="0" cy="-0.2" rx="2.5" ry="2.9" fill="#000"/><line x1="0" y1="0" x2="0" y2="6.2" stroke="#000" stroke-width="1.25"/></g>
<g transform="translate(365.50,86.90) rotate(0)"><path d="M0,-6.9 L1.6,-2.2 L-1.6,-2.2 Z" fill="#000"/><ellipse cx="0" cy="-0.2" rx="2.5" ry="2.9" fill="#000"/><line x1="0" y1="0" x2="0" y2="6.2" stroke="#000" stroke-width="1.25"/></g>
<g transform="translate(379.60,86.90) rotate(30)"><path d="M0,-6.9 L1.6,-2.2 L-1.6,-2.2 Z" fill="#000"/><ellipse cx="0" cy="-0.2" rx="2.5" ry="2.9" fill="#000"/><line x1="0" y1="0" x2="0" y2="6.2" stroke="#000" stroke-width="1.25"/></g>
<g opacity="0.55"><path d="M396.65,81.79 A5.9,5.9 0 1 1 391.68,81.36" fill="none" stroke="#7a5a5e" stroke-width="3.4"/><path d="M389.90,82.60 L392.70,77.10 L395.50,82.60 Z" fill="#7a5a5e"/></g>
<g transform="translate(393.70,86.90) rotate(90)"><path d="M0,-6.9 L1.6,-2.2 L-1.6,-2.2 Z" fill="#000"/><ellipse cx="0" cy="-0.2" rx="2.5" ry="2.9" fill="#000"/><line x1="0" y1="0" x2="0" y2="6.2" stroke="#000" stroke-width="1.25"/></g>
<text x="394.3" y="61.0" font-size="9.5" text-anchor="middle" fill="#222">1</text>
<line x1="391.2" y1="64.3" x2="397.4" y2="64.3" stroke="#555" stroke-width="0.8"/>
<text x="394.3" y="73.0" font-size="9.5" text-anchor="middle" fill="#222">2</text>
<g transform="translate(407.80,86.90) rotate(150)"><path d="M0,-6.9 L1.6,-2.2 L-1.6,-2.2 Z" fill="#000"/><ellipse cx="0" cy="-0.2" rx="2.5" ry="2.9" fill="#000"/><line x1="0" y1="0" x2="0" y2="6.2" stroke="#000" stroke-width="1.25"/></g>
<g transform="translate(421.90,86.90) rotate(180)"><path d="M0,-6.9 L1.6,-2.2 L-1.6,-2.2 Z" fill="#000"/><ellipse cx="0" cy="-0.2" rx="2.5" ry="2.9" fill="#000"/><line x1="0" y1="0" x2="0" y2="6.2" stroke="#000" stroke-width="1.25"/></g>
<g transform="translate(436.00,86.90) rotate(180)"><path d="M0,-6.9 L1.6,-2.2 L-1.6,-2.2 Z" fill="#000"/><ellipse cx="0" cy="-0.2" rx="2.5" ry="2.9" fill="#000"/><line x1="0" y1="0" x2="0" y2="6.2" stroke="#000" stroke-width="1.25"/></g>
<g transform="translate(450.10,86.90) rotate(180)"><path d="M0,-6.9 L1.6,-2.2 L-1.6,-2.2 Z" fill="#000"/><ellipse cx="0" cy="-0.2" rx="2.5" ry="2.9" fill="#000"/><line x1="0" y1="0" x2="0" y2="6.2" stroke="#000" stroke-width="1.25"/></g>
<g transform="translate(464.20,86.90) rotate(210)"><path d="M0,-6.9 L1.6,-2.2 L-1.6,-2.2 Z" fill="#000"/><ellipse cx="0" cy="-0.2" rx="2.5" ry="2.9" fill="#000"/><line x1="0" y1="0" x2="0" y2="6.2" stroke="#000" stroke-width="1.25"/></g>
<g opacity="0.6"><path d="M482.45,81.79 A5.9,5.9 0 1 1 477.48,81.36" fill="none" stroke="#5a5ab8" stroke-width="3.4"/><path d="M475.70,82.60 L478.50,77.10 L481.30,82.60 Z" fill="#5a5ab8"/></g>
<g transform="translate(479.50,86.90) rotate(270)"><path d="M0,-6.9 L1.6,-2.2 L-1.6,-2.2 Z" fill="#000"/><ellipse cx="0" cy="-0.2" rx="2.5" ry="2.9" fill="#000"/><line x1="0" y1="0" x2="0" y2="6.2" stroke="#000" stroke-width="1.25"/></g>
<text x="480.1" y="61.0" font-size="9.5" text-anchor="middle" fill="#222">1</text>
<line x1="477.0" y1="64.3" x2="483.2" y2="64.3" stroke="#555" stroke-width="0.8"/>
<text x="480.1" y="73.0" font-size="9.5" text-anchor="middle" fill="#222">2</text>
<g transform="translate(495.50,86.90) rotate(330)"><path d="M0,-6.9 L1.6,-2.2 L-1.6,-2.2 Z" fill="#000"/><ellipse cx="0" cy="-0.2" rx="2.5" ry="2.9" fill="#000"/><line x1="0" y1="0" x2="0" y2="6.2" stroke="#000" stroke-width="1.25"/></g>
<g transform="translate(509.64,86.90) rotate(0)"><path d="M0,-6.9 L1.6,-2.2 L-1.6,-2.2 Z" fill="#000"/><ellipse cx="0" cy="-0.2" rx="2.5" ry="2.9" fill="#000"/><line x1="0" y1="0" x2="0" y2="6.2" stroke="#000" stroke-width="1.25"/></g>
<g transform="translate(523.78,86.90) rotate(0)"><path d="M0,-6.9 L1.6,-2.2 L-1.6,-2.2 Z" fill="#000"/><ellipse cx="0" cy="-0.2" rx="2.5" ry="2.9" fill="#000"/><line x1="0" y1="0" x2="0" y2="6.2" stroke="#000" stroke-width="1.25"/></g>
<g transform="translate(537.92,86.90) rotate(0)"><path d="M0,-6.9 L1.6,-2.2 L-1.6,-2.2 Z" fill="#000"/><ellipse cx="0" cy="-0.2" rx="2.5" ry="2.9" fill="#000"/><line x1="0" y1="0" x2="0" y2="6.2" stroke="#000" stroke-width="1.25"/></g>
<g transform="translate(552.06,86.90) rotate(330)"><path d="M0,-6.9 L1.6,-2.2 L-1.6,-2.2 Z" fill="#000"/><ellipse cx="0" cy="-0.2" rx="2.5" ry="2.9" fill="#000"/><line x1="0" y1="0" x2="0" y2="6.2" stroke="#000" stroke-width="1.25"/></g>
<g opacity="0.6"><path d="M569.15,81.79 A5.9,5.9 0 1 1 564.18,81.36" fill="none" stroke="#5a5ab8" stroke-width="3.4"/><path d="M562.40,82.60 L565.20,77.10 L568.00,82.60 Z" fill="#5a5ab8"/></g>
<g transform="translate(566.20,86.90) rotate(270)"><path d="M0,-6.9 L1.6,-2.2 L-1.6,-2.2 Z" fill="#000"/><ellipse cx="0" cy="-0.2" rx="2.5" ry="2.9" fill="#000"/><line x1="0" y1="0" x2="0" y2="6.2" stroke="#000" stroke-width="1.25"/></g>
<text x="566.8" y="61.0" font-size="9.5" text-anchor="middle" fill="#222">1</text>
<line x1="563.7" y1="64.3" x2="569.9" y2="64.3" stroke="#555" stroke-width="0.8"/>
<text x="566.8" y="73.0" font-size="9.5" text-anchor="middle" fill="#222">2</text>
<line x1="557.4" y1="64.3" x2="562.4" y2="64.3" stroke="#333" stroke-width="0.7"/>
<g transform="translate(580.34,86.90) rotate(210)"><path d="M0,-6.9 L1.6,-2.2 L-1.6,-2.2 Z" fill="#000"/><ellipse cx="0" cy="-0.2" rx="2.5" ry="2.9" fill="#000"/><line x1="0" y1="0" x2="0" y2="6.2" stroke="#000" stroke-width="1.25"/></g>
<g transform="translate(594.48,86.90) rotate(180)"><path d="M0,-6.9 L1.6,-2.2 L-1.6,-2.2 Z" fill="#000"/><ellipse cx="0" cy="-0.2" rx="2.5" ry="2.9" fill="#000"/><line x1="0" y1="0" x2="0" y2="6.2" stroke="#000" stroke-width="1.25"/></g>
<g transform="translate(608.62,86.90) rotate(180)"><path d="M0,-6.9 L1.6,-2.2 L-1.6,-2.2 Z" fill="#000"/><ellipse cx="0" cy="-0.2" rx="2.5" ry="2.9" fill="#000"/><line x1="0" y1="0" x2="0" y2="6.2" stroke="#000" stroke-width="1.25"/></g>
<g transform="translate(622.76,86.90) rotate(180)"><path d="M0,-6.9 L1.6,-2.2 L-1.6,-2.2 Z" fill="#000"/><ellipse cx="0" cy="-0.2" rx="2.5" ry="2.9" fill="#000"/><line x1="0" y1="0" x2="0" y2="6.2" stroke="#000" stroke-width="1.25"/></g>
<rect x="332.6" y="126.8" width="296" height="19.8" fill="#d9d9db"/>
<text x="320.3" y="143.3" font-size="16.5" text-anchor="middle" fill="#111">III</text>
<rect x="339.5" y="126.8" width="52" height="19.8" fill="url(#gR)"/>
<rect x="395.9" y="126.8" width="52" height="19.8" fill="url(#gR)"/>
<rect x="453.5" y="126.8" width="52" height="19.8" fill="url(#gB)"/>
<rect x="511.9" y="126.8" width="52" height="19.8" fill="url(#gB)"/>
<rect x="568.5" y="126.8" width="52" height="19.8" fill="url(#gR)"/>
<g transform="translate(337.30,137.70) rotate(0)"><path d="M0,-6.9 L1.6,-2.2 L-1.6,-2.2 Z" fill="#000"/><ellipse cx="0" cy="-0.2" rx="2.5" ry="2.9" fill="#000"/><line x1="0" y1="0" x2="0" y2="6.2" stroke="#000" stroke-width="1.25"/></g>
<g transform="translate(351.40,137.70) rotate(30)"><path d="M0,-6.9 L1.6,-2.2 L-1.6,-2.2 Z" fill="#000"/><ellipse cx="0" cy="-0.2" rx="2.5" ry="2.9" fill="#000"/><line x1="0" y1="0" x2="0" y2="6.2" stroke="#000" stroke-width="1.25"/></g>
<g opacity="0.55"><path d="M368.45,132.59 A5.9,5.9 0 1 1 363.48,132.16" fill="none" stroke="#7a5a5e" stroke-width="3.4"/><path d="M361.70,133.40 L364.50,127.90 L367.30,133.40 Z" fill="#7a5a5e"/></g>
<g transform="translate(365.50,137.70) rotate(90)"><path d="M0,-6.9 L1.6,-2.2 L-1.6,-2.2 Z" fill="#000"/><ellipse cx="0" cy="-0.2" rx="2.5" ry="2.9" fill="#000"/><line x1="0" y1="0" x2="0" y2="6.2" stroke="#000" stroke-width="1.25"/></g>
<text x="366.1" y="111.8" font-size="9.5" text-anchor="middle" fill="#222">1</text>
<line x1="363.0" y1="115.1" x2="369.2" y2="115.1" stroke="#555" stroke-width="0.8"/>
<text x="366.1" y="123.8" font-size="9.5" text-anchor="middle" fill="#222">2</text>
<g transform="translate(379.60,137.70) rotate(150)"><path d="M0,-6.9 L1.6,-2.2 L-1.6,-2.2 Z" fill="#000"/><ellipse cx="0" cy="-0.2" rx="2.5" ry="2.9" fill="#000"/><line x1="0" y1="0" x2="0" y2="6.2" stroke="#000" stroke-width="1.25"/></g>
<g transform="translate(393.70,137.70) rotate(180)"><path d="M0,-6.9 L1.6,-2.2 L-1.6,-2.2 Z" fill="#000"/><ellipse cx="0" cy="-0.2" rx="2.5" ry="2.9" fill="#000"/><line x1="0" y1="0" x2="0" y2="6.2" stroke="#000" stroke-width="1.25"/></g>
<g transform="translate(407.80,137.70) rotate(150)"><path d="M0,-6.9 L1.6,-2.2 L-1.6,-2.2 Z" fill="#000"/><ellipse cx="0" cy="-0.2" rx="2.5" ry="2.9" fill="#000"/><line x1="0" y1="0" x2="0" y2="6.2" stroke="#000" stroke-width="1.25"/></g>
<g opacity="0.55"><path d="M424.85,132.59 A5.9,5.9 0 1 1 419.88,132.16" fill="none" stroke="#7a5a5e" stroke-width="3.4"/><path d="M418.10,133.40 L420.90,127.90 L423.70,133.40 Z" fill="#7a5a5e"/></g>
<g transform="translate(421.90,137.70) rotate(90)"><path d="M0,-6.9 L1.6,-2.2 L-1.6,-2.2 Z" fill="#000"/><ellipse cx="0" cy="-0.2" rx="2.5" ry="2.9" fill="#000"/><line x1="0" y1="0" x2="0" y2="6.2" stroke="#000" stroke-width="1.25"/></g>
<text x="422.5" y="111.8" font-size="9.5" text-anchor="middle" fill="#222">1</text>
<line x1="419.4" y1="115.1" x2="425.6" y2="115.1" stroke="#555" stroke-width="0.8"/>
<text x="422.5" y="123.8" font-size="9.5" text-anchor="middle" fill="#222">2</text>
<line x1="413.1" y1="115.1" x2="418.1" y2="115.1" stroke="#333" stroke-width="0.7"/>
<g transform="translate(436.00,137.70) rotate(30)"><path d="M0,-6.9 L1.6,-2.2 L-1.6,-2.2 Z" fill="#000"/><ellipse cx="0" cy="-0.2" rx="2.5" ry="2.9" fill="#000"/><line x1="0" y1="0" x2="0" y2="6.2" stroke="#000" stroke-width="1.25"/></g>
<g transform="translate(450.10,137.70) rotate(0)"><path d="M0,-6.9 L1.6,-2.2 L-1.6,-2.2 Z" fill="#000"/><ellipse cx="0" cy="-0.2" rx="2.5" ry="2.9" fill="#000"/><line x1="0" y1="0" x2="0" y2="6.2" stroke="#000" stroke-width="1.25"/></g>
<g transform="translate(464.20,137.70) rotate(330)"><path d="M0,-6.9 L1.6,-2.2 L-1.6,-2.2 Z" fill="#000"/><ellipse cx="0" cy="-0.2" rx="2.5" ry="2.9" fill="#000"/><line x1="0" y1="0" x2="0" y2="6.2" stroke="#000" stroke-width="1.25"/></g>
<g opacity="0.6"><path d="M482.45,132.59 A5.9,5.9 0 1 1 477.48,132.16" fill="none" stroke="#5a5ab8" stroke-width="3.4"/><path d="M475.70,133.40 L478.50,127.90 L481.30,133.40 Z" fill="#5a5ab8"/></g>
<g transform="translate(479.50,137.70) rotate(270)"><path d="M0,-6.9 L1.6,-2.2 L-1.6,-2.2 Z" fill="#000"/><ellipse cx="0" cy="-0.2" rx="2.5" ry="2.9" fill="#000"/><line x1="0" y1="0" x2="0" y2="6.2" stroke="#000" stroke-width="1.25"/></g>
<text x="480.1" y="111.8" font-size="9.5" text-anchor="middle" fill="#222">1</text>
<line x1="477.0" y1="115.1" x2="483.2" y2="115.1" stroke="#555" stroke-width="0.8"/>
<text x="480.1" y="123.8" font-size="9.5" text-anchor="middle" fill="#222">2</text>
<line x1="470.7" y1="115.1" x2="475.7" y2="115.1" stroke="#333" stroke-width="0.7"/>
<g transform="translate(495.50,137.70) rotate(210)"><path d="M0,-6.9 L1.6,-2.2 L-1.6,-2.2 Z" fill="#000"/><ellipse cx="0" cy="-0.2" rx="2.5" ry="2.9" fill="#000"/><line x1="0" y1="0" x2="0" y2="6.2" stroke="#000" stroke-width="1.25"/></g>
<g transform="translate(509.64,137.70) rotate(180)"><path d="M0,-6.9 L1.6,-2.2 L-1.6,-2.2 Z" fill="#000"/><ellipse cx="0" cy="-0.2" rx="2.5" ry="2.9" fill="#000"/><line x1="0" y1="0" x2="0" y2="6.2" stroke="#000" stroke-width="1.25"/></g>
<g transform="translate(523.78,137.70) rotate(210)"><path d="M0,-6.9 L1.6,-2.2 L-1.6,-2.2 Z" fill="#000"/><ellipse cx="0" cy="-0.2" rx="2.5" ry="2.9" fill="#000"/><line x1="0" y1="0" x2="0" y2="6.2" stroke="#000" stroke-width="1.25"/></g>
<g opacity="0.6"><path d="M540.87,132.59 A5.9,5.9 0 1 1 535.90,132.16" fill="none" stroke="#5a5ab8" stroke-width="3.4"/><path d="M534.12,133.40 L536.92,127.90 L539.72,133.40 Z" fill="#5a5ab8"/></g>
<g transform="translate(537.92,137.70) rotate(270)"><path d="M0,-6.9 L1.6,-2.2 L-1.6,-2.2 Z" fill="#000"/><ellipse cx="0" cy="-0.2" rx="2.5" ry="2.9" fill="#000"/><line x1="0" y1="0" x2="0" y2="6.2" stroke="#000" stroke-width="1.25"/></g>
<text x="538.5" y="111.8" font-size="9.5" text-anchor="middle" fill="#222">1</text>
<line x1="535.4" y1="115.1" x2="541.6" y2="115.1" stroke="#555" stroke-width="0.8"/>
<text x="538.5" y="123.8" font-size="9.5" text-anchor="middle" fill="#222">2</text>
<g transform="translate(552.06,137.70) rotate(330)"><path d="M0,-6.9 L1.6,-2.2 L-1.6,-2.2 Z" fill="#000"/><ellipse cx="0" cy="-0.2" rx="2.5" ry="2.9" fill="#000"/><line x1="0" y1="0" x2="0" y2="6.2" stroke="#000" stroke-width="1.25"/></g>
<g transform="translate(566.20,137.70) rotate(0)"><path d="M0,-6.9 L1.6,-2.2 L-1.6,-2.2 Z" fill="#000"/><ellipse cx="0" cy="-0.2" rx="2.5" ry="2.9" fill="#000"/><line x1="0" y1="0" x2="0" y2="6.2" stroke="#000" stroke-width="1.25"/></g>
<g transform="translate(580.34,137.70) rotate(30)"><path d="M0,-6.9 L1.6,-2.2 L-1.6,-2.2 Z" fill="#000"/><ellipse cx="0" cy="-0.2" rx="2.5" ry="2.9" fill="#000"/><line x1="0" y1="0" x2="0" y2="6.2" stroke="#000" stroke-width="1.25"/></g>
<g opacity="0.55"><path d="M597.43,132.59 A5.9,5.9 0 1 1 592.46,132.16" fill="none" stroke="#7a5a5e" stroke-width="3.4"/><path d="M590.68,133.40 L593.48,127.90 L596.28,133.40 Z" fill="#7a5a5e"/></g>
<g transform="translate(594.48,137.70) rotate(90)"><path d="M0,-6.9 L1.6,-2.2 L-1.6,-2.2 Z" fill="#000"/><ellipse cx="0" cy="-0.2" rx="2.5" ry="2.9" fill="#000"/><line x1="0" y1="0" x2="0" y2="6.2" stroke="#000" stroke-width="1.25"/></g>
<text x="595.1" y="111.8" font-size="9.5" text-anchor="middle" fill="#222">1</text>
<line x1="592.0" y1="115.1" x2="598.2" y2="115.1" stroke="#555" stroke-width="0.8"/>
<text x="595.1" y="123.8" font-size="9.5" text-anchor="middle" fill="#222">2</text>
<g transform="translate(608.62,137.70) rotate(150)"><path d="M0,-6.9 L1.6,-2.2 L-1.6,-2.2 Z" fill="#000"/><ellipse cx="0" cy="-0.2" rx="2.5" ry="2.9" fill="#000"/><line x1="0" y1="0" x2="0" y2="6.2" stroke="#000" stroke-width="1.25"/></g>
<g transform="translate(622.76,137.70) rotate(180)"><path d="M0,-6.9 L1.6,-2.2 L-1.6,-2.2 Z" fill="#000"/><ellipse cx="0" cy="-0.2" rx="2.5" ry="2.9" fill="#000"/><line x1="0" y1="0" x2="0" y2="6.2" stroke="#000" stroke-width="1.25"/></g>
<line x1="633.3" y1="30" x2="633.3" y2="143" stroke="#333" stroke-width="1"/>
<path d="M630.5,141 L633.3,148 L636.1,141 Z" fill="#333"/>
<line x1="630.5" y1="31.8" x2="664" y2="31.8" stroke="#333" stroke-width="1"/>
<path d="M662,29 L669,31.8 L662,34.6 Z" fill="#333"/>
<text x="679" y="38" font-size="15.5" font-style="italic" text-anchor="middle" fill="#111">Q</text>
<line x1="655.5" y1="32" x2="655.5" y2="148" stroke="#3cc8a0" stroke-width="1"/>
<text x="655.5" y="15.5" font-size="9" text-anchor="middle" fill="#222">1</text>
<line x1="652.5" y1="19.3" x2="658.5" y2="19.3" stroke="#333" stroke-width="0.7"/>
<text x="655.5" y="28.5" font-size="9" text-anchor="middle" fill="#222">2</text>
<text x="0" y="0" font-size="13.5" fill="#111" text-anchor="middle" transform="translate(637.3,125.8) rotate(90)">Time</text>
<text x="285.6" y="190.3" font-size="18" text-anchor="start" font-style="normal" fill="#111" >d)</text>
<rect x="405" y="182.6" width="7.8" height="8" fill="#a80ec4"/>
<text x="417.8" y="190.8" font-size="13.8" text-anchor="start" font-style="normal" fill="#111" >No-Chaos</text>
<circle cx="516.6" cy="186.8" r="4" fill="#12a8ac"/>
<text x="526.3" y="190.8" font-size="13.8" text-anchor="start" font-style="normal" fill="#111" >Chaos</text>
<rect x="353.3" y="200.3" width="298.2" height="59.3" fill="none" stroke="#222" stroke-width="1.4"/>
<rect x="357.85" y="202.95" width="4.3" height="4.3" fill="#a80ec4"/>
<rect x="364.97" y="202.95" width="4.3" height="4.3" fill="#a80ec4"/>
<rect x="372.09" y="202.95" width="4.3" height="4.3" fill="#a80ec4"/>
<rect x="379.21" y="202.95" width="4.3" height="4.3" fill="#a80ec4"/>
<rect x="386.33" y="202.95" width="4.3" height="4.3" fill="#a80ec4"/>
<rect x="393.45" y="202.95" width="4.3" height="4.3" fill="#a80ec4"/>
<rect x="400.57" y="202.95" width="4.3" height="4.3" fill="#a80ec4"/>
<rect x="407.69" y="202.95" width="4.3" height="4.3" fill="#a80ec4"/>
<rect x="414.81" y="202.95" width="4.3" height="4.3" fill="#a80ec4"/>
<rect x="421.93" y="202.95" width="4.3" height="4.3" fill="#a80ec4"/>
<rect x="429.05" y="202.95" width="4.3" height="4.3" fill="#a80ec4"/>
<rect x="436.17" y="202.95" width="4.3" height="4.3" fill="#a80ec4"/>
<rect x="443.29" y="202.95" width="4.3" height="4.3" fill="#a80ec4"/>
<rect x="450.41" y="202.95" width="4.3" height="4.3" fill="#a80ec4"/>
<rect x="457.53" y="202.95" width="4.3" height="4.3" fill="#a80ec4"/>
<rect x="464.65" y="202.95" width="4.3" height="4.3" fill="#a80ec4"/>
<rect x="471.77" y="202.95" width="4.3" height="4.3" fill="#a80ec4"/>
<rect x="478.89" y="202.95" width="4.3" height="4.3" fill="#a80ec4"/>
<rect x="486.01" y="202.95" width="4.3" height="4.3" fill="#a80ec4"/>
<rect x="493.13" y="202.95" width="4.3" height="4.3" fill="#a80ec4"/>
<circle cx="502.40" cy="205.10" r="2.2" fill="#12a8ac"/>
<circle cx="509.52" cy="205.10" r="2.2" fill="#12a8ac"/>
<circle cx="516.64" cy="205.10" r="2.2" fill="#12a8ac"/>
<circle cx="523.76" cy="205.10" r="2.2" fill="#12a8ac"/>
<circle cx="530.88" cy="205.10" r="2.2" fill="#12a8ac"/>
<circle cx="538.00" cy="205.10" r="2.2" fill="#12a8ac"/>
<circle cx="545.12" cy="205.10" r="2.2" fill="#12a8ac"/>
<circle cx="552.24" cy="205.10" r="2.2" fill="#12a8ac"/>
<circle cx="559.36" cy="205.10" r="2.2" fill="#12a8ac"/>
<circle cx="566.48" cy="205.10" r="2.2" fill="#12a8ac"/>
<circle cx="573.60" cy="205.10" r="2.2" fill="#12a8ac"/>
<circle cx="580.72" cy="205.10" r="2.2" fill="#12a8ac"/>
<circle cx="587.84" cy="205.10" r="2.2" fill="#12a8ac"/>
<circle cx="594.96" cy="205.10" r="2.2" fill="#12a8ac"/>
<circle cx="602.08" cy="205.10" r="2.2" fill="#12a8ac"/>
<circle cx="609.20" cy="205.10" r="2.2" fill="#12a8ac"/>
<circle cx="616.32" cy="205.10" r="2.2" fill="#12a8ac"/>
<circle cx="623.44" cy="205.10" r="2.2" fill="#12a8ac"/>
<circle cx="630.56" cy="205.10" r="2.2" fill="#12a8ac"/>
<circle cx="637.68" cy="205.10" r="2.2" fill="#12a8ac"/>
<circle cx="644.80" cy="205.10" r="2.2" fill="#12a8ac"/>
<rect x="357.85" y="219.35" width="4.3" height="4.3" fill="#a80ec4"/>
<rect x="364.97" y="219.35" width="4.3" height="4.3" fill="#a80ec4"/>
<rect x="372.09" y="219.35" width="4.3" height="4.3" fill="#a80ec4"/>
<rect x="379.21" y="219.35" width="4.3" height="4.3" fill="#a80ec4"/>
<rect x="386.33" y="219.35" width="4.3" height="4.3" fill="#a80ec4"/>
<rect x="393.45" y="219.35" width="4.3" height="4.3" fill="#a80ec4"/>
<rect x="400.57" y="219.35" width="4.3" height="4.3" fill="#a80ec4"/>
<rect x="407.69" y="219.35" width="4.3" height="4.3" fill="#a80ec4"/>
<rect x="414.81" y="219.35" width="4.3" height="4.3" fill="#a80ec4"/>
<rect x="421.93" y="219.35" width="4.3" height="4.3" fill="#a80ec4"/>
<rect x="429.05" y="219.35" width="4.3" height="4.3" fill="#a80ec4"/>
<rect x="436.17" y="219.35" width="4.3" height="4.3" fill="#a80ec4"/>
<rect x="443.29" y="219.35" width="4.3" height="4.3" fill="#a80ec4"/>
<rect x="450.41" y="219.35" width="4.3" height="4.3" fill="#a80ec4"/>
<rect x="457.53" y="219.35" width="4.3" height="4.3" fill="#a80ec4"/>
<rect x="464.65" y="219.35" width="4.3" height="4.3" fill="#a80ec4"/>
<rect x="471.77" y="219.35" width="4.3" height="4.3" fill="#a80ec4"/>
<rect x="478.89" y="219.35" width="4.3" height="4.3" fill="#a80ec4"/>
<rect x="486.01" y="219.35" width="4.3" height="4.3" fill="#a80ec4"/>
<rect x="493.13" y="219.35" width="4.3" height="4.3" fill="#a80ec4"/>
<circle cx="502.40" cy="221.50" r="2.2" fill="#12a8ac"/>
<circle cx="509.52" cy="221.50" r="2.2" fill="#12a8ac"/>
<circle cx="516.64" cy="221.50" r="2.2" fill="#12a8ac"/>
<circle cx="523.76" cy="221.50" r="2.2" fill="#12a8ac"/>
<circle cx="530.88" cy="221.50" r="2.2" fill="#12a8ac"/>
<circle cx="538.00" cy="221.50" r="2.2" fill="#12a8ac"/>
<circle cx="545.12" cy="221.50" r="2.2" fill="#12a8ac"/>
<circle cx="552.24" cy="221.50" r="2.2" fill="#12a8ac"/>
<circle cx="559.36" cy="221.50" r="2.2" fill="#12a8ac"/>
<circle cx="566.48" cy="221.50" r="2.2" fill="#12a8ac"/>
<circle cx="573.60" cy="221.50" r="2.2" fill="#12a8ac"/>
<circle cx="580.72" cy="221.50" r="2.2" fill="#12a8ac"/>
<circle cx="587.84" cy="221.50" r="2.2" fill="#12a8ac"/>
<circle cx="594.96" cy="221.50" r="2.2" fill="#12a8ac"/>
<circle cx="602.08" cy="221.50" r="2.2" fill="#12a8ac"/>
<circle cx="609.20" cy="221.50" r="2.2" fill="#12a8ac"/>
<circle cx="616.32" cy="221.50" r="2.2" fill="#12a8ac"/>
<circle cx="623.44" cy="221.50" r="2.2" fill="#12a8ac"/>
<circle cx="630.56" cy="221.50" r="2.2" fill="#12a8ac"/>
<circle cx="637.68" cy="221.50" r="2.2" fill="#12a8ac"/>
<circle cx="644.80" cy="221.50" r="2.2" fill="#12a8ac"/>
<rect x="357.85" y="235.95" width="4.3" height="4.3" fill="#a80ec4"/>
<rect x="364.97" y="235.95" width="4.3" height="4.3" fill="#a80ec4"/>
<rect x="372.09" y="235.95" width="4.3" height="4.3" fill="#a80ec4"/>
<rect x="379.21" y="235.95" width="4.3" height="4.3" fill="#a80ec4"/>
<rect x="386.33" y="235.95" width="4.3" height="4.3" fill="#a80ec4"/>
<rect x="393.45" y="235.95" width="4.3" height="4.3" fill="#a80ec4"/>
<rect x="400.57" y="235.95" width="4.3" height="4.3" fill="#a80ec4"/>
<rect x="407.69" y="235.95" width="4.3" height="4.3" fill="#a80ec4"/>
<rect x="414.81" y="235.95" width="4.3" height="4.3" fill="#a80ec4"/>
<rect x="421.93" y="235.95" width="4.3" height="4.3" fill="#a80ec4"/>
<rect x="429.05" y="235.95" width="4.3" height="4.3" fill="#a80ec4"/>
<rect x="436.17" y="235.95" width="4.3" height="4.3" fill="#a80ec4"/>
<rect x="443.29" y="235.95" width="4.3" height="4.3" fill="#a80ec4"/>
<rect x="450.41" y="235.95" width="4.3" height="4.3" fill="#a80ec4"/>
<rect x="457.53" y="235.95" width="4.3" height="4.3" fill="#a80ec4"/>
<rect x="464.65" y="235.95" width="4.3" height="4.3" fill="#a80ec4"/>
<rect x="471.77" y="235.95" width="4.3" height="4.3" fill="#a80ec4"/>
<rect x="478.89" y="235.95" width="4.3" height="4.3" fill="#a80ec4"/>
<rect x="486.01" y="235.95" width="4.3" height="4.3" fill="#a80ec4"/>
<rect x="493.13" y="235.95" width="4.3" height="4.3" fill="#a80ec4"/>
<rect x="500.25" y="235.95" width="4.3" height="4.3" fill="#a80ec4"/>
<rect x="507.37" y="235.95" width="4.3" height="4.3" fill="#a80ec4"/>
<rect x="514.49" y="235.95" width="4.3" height="4.3" fill="#a80ec4"/>
<rect x="521.61" y="235.95" width="4.3" height="4.3" fill="#a80ec4"/>
<rect x="528.73" y="235.95" width="4.3" height="4.3" fill="#a80ec4"/>
<rect x="535.85" y="235.95" width="4.3" height="4.3" fill="#a80ec4"/>
<circle cx="545.12" cy="238.10" r="2.2" fill="#12a8ac"/>
<circle cx="552.24" cy="238.10" r="2.2" fill="#12a8ac"/>
<circle cx="559.36" cy="238.10" r="2.2" fill="#12a8ac"/>
<circle cx="566.48" cy="238.10" r="2.2" fill="#12a8ac"/>
<circle cx="573.60" cy="238.10" r="2.2" fill="#12a8ac"/>
<circle cx="580.72" cy="238.10" r="2.2" fill="#12a8ac"/>
<circle cx="587.84" cy="238.10" r="2.2" fill="#12a8ac"/>
<circle cx="594.96" cy="238.10" r="2.2" fill="#12a8ac"/>
<circle cx="602.08" cy="238.10" r="2.2" fill="#12a8ac"/>
<circle cx="609.20" cy="238.10" r="2.2" fill="#12a8ac"/>
<circle cx="616.32" cy="238.10" r="2.2" fill="#12a8ac"/>
<circle cx="623.44" cy="238.10" r="2.2" fill="#12a8ac"/>
<circle cx="630.56" cy="238.10" r="2.2" fill="#12a8ac"/>
<circle cx="637.68" cy="238.10" r="2.2" fill="#12a8ac"/>
<circle cx="644.80" cy="238.10" r="2.2" fill="#12a8ac"/>
<rect x="357.85" y="252.45" width="4.3" height="4.3" fill="#a80ec4"/>
<rect x="364.97" y="252.45" width="4.3" height="4.3" fill="#a80ec4"/>
<rect x="372.09" y="252.45" width="4.3" height="4.3" fill="#a80ec4"/>
<rect x="379.21" y="252.45" width="4.3" height="4.3" fill="#a80ec4"/>
<rect x="386.33" y="252.45" width="4.3" height="4.3" fill="#a80ec4"/>
<rect x="393.45" y="252.45" width="4.3" height="4.3" fill="#a80ec4"/>
<rect x="400.57" y="252.45" width="4.3" height="4.3" fill="#a80ec4"/>
<rect x="407.69" y="252.45" width="4.3" height="4.3" fill="#a80ec4"/>
<rect x="414.81" y="252.45" width="4.3" height="4.3" fill="#a80ec4"/>
<rect x="421.93" y="252.45" width="4.3" height="4.3" fill="#a80ec4"/>
<rect x="429.05" y="252.45" width="4.3" height="4.3" fill="#a80ec4"/>
<rect x="436.17" y="252.45" width="4.3" height="4.3" fill="#a80ec4"/>
<rect x="443.29" y="252.45" width="4.3" height="4.3" fill="#a80ec4"/>
<rect x="450.41" y="252.45" width="4.3" height="4.3" fill="#a80ec4"/>
<rect x="457.53" y="252.45" width="4.3" height="4.3" fill="#a80ec4"/>
<rect x="464.65" y="252.45" width="4.3" height="4.3" fill="#a80ec4"/>
<rect x="471.77" y="252.45" width="4.3" height="4.3" fill="#a80ec4"/>
<rect x="478.89" y="252.45" width="4.3" height="4.3" fill="#a80ec4"/>
<rect x="486.01" y="252.45" width="4.3" height="4.3" fill="#a80ec4"/>
<rect x="493.13" y="252.45" width="4.3" height="4.3" fill="#a80ec4"/>
<rect x="500.25" y="252.45" width="4.3" height="4.3" fill="#a80ec4"/>
<rect x="507.37" y="252.45" width="4.3" height="4.3" fill="#a80ec4"/>
<rect x="514.49" y="252.45" width="4.3" height="4.3" fill="#a80ec4"/>
<rect x="521.61" y="252.45" width="4.3" height="4.3" fill="#a80ec4"/>
<rect x="528.73" y="252.45" width="4.3" height="4.3" fill="#a80ec4"/>
<circle cx="538.00" cy="254.60" r="2.2" fill="#12a8ac"/>
<circle cx="545.12" cy="254.60" r="2.2" fill="#12a8ac"/>
<circle cx="552.24" cy="254.60" r="2.2" fill="#12a8ac"/>
<circle cx="559.36" cy="254.60" r="2.2" fill="#12a8ac"/>
<circle cx="566.48" cy="254.60" r="2.2" fill="#12a8ac"/>
<circle cx="573.60" cy="254.60" r="2.2" fill="#12a8ac"/>
<circle cx="580.72" cy="254.60" r="2.2" fill="#12a8ac"/>
<circle cx="587.84" cy="254.60" r="2.2" fill="#12a8ac"/>
<circle cx="594.96" cy="254.60" r="2.2" fill="#12a8ac"/>
<circle cx="602.08" cy="254.60" r="2.2" fill="#12a8ac"/>
<circle cx="609.20" cy="254.60" r="2.2" fill="#12a8ac"/>
<circle cx="616.32" cy="254.60" r="2.2" fill="#12a8ac"/>
<circle cx="623.44" cy="254.60" r="2.2" fill="#12a8ac"/>
<circle cx="630.56" cy="254.60" r="2.2" fill="#12a8ac"/>
<circle cx="637.68" cy="254.60" r="2.2" fill="#12a8ac"/>
<circle cx="644.80" cy="254.60" r="2.2" fill="#12a8ac"/>
<line x1="353.3" y1="221.5" x2="355.5" y2="221.5" stroke="#222" stroke-width="0.8"/>
<line x1="353.3" y1="238.1" x2="355.5" y2="238.1" stroke="#222" stroke-width="0.8"/>
<text x="350.8" y="210.8" font-size="14" text-anchor="end" font-style="normal" fill="#111" >30</text>
<text x="350.8" y="260" font-size="14" text-anchor="end" font-style="normal" fill="#111" >15</text>
<text x="0" y="0" font-size="13.2" fill="#111" text-anchor="middle" transform="translate(329.6,230) rotate(-90)">T [ps]</text>
<rect x="353.6" y="266.2" width="297.9" height="208" fill="none" stroke="#222" stroke-width="1.5"/>
<line x1="360.40" y1="474.2" x2="360.40" y2="471.2" stroke="#222" stroke-width="0.9"/>
<line x1="360.40" y1="266.2" x2="360.40" y2="269.2" stroke="#222" stroke-width="0.9"/>
<line x1="374.62" y1="474.2" x2="374.62" y2="472.2" stroke="#222" stroke-width="0.9"/>
<line x1="374.62" y1="266.2" x2="374.62" y2="268.2" stroke="#222" stroke-width="0.9"/>
<line x1="388.85" y1="474.2" x2="388.85" y2="472.2" stroke="#222" stroke-width="0.9"/>
<line x1="388.85" y1="266.2" x2="388.85" y2="268.2" stroke="#222" stroke-width="0.9"/>
<line x1="403.07" y1="474.2" x2="403.07" y2="472.2" stroke="#222" stroke-width="0.9"/>
<line x1="403.07" y1="266.2" x2="403.07" y2="268.2" stroke="#222" stroke-width="0.9"/>
<line x1="417.30" y1="474.2" x2="417.30" y2="472.2" stroke="#222" stroke-width="0.9"/>
<line x1="417.30" y1="266.2" x2="417.30" y2="268.2" stroke="#222" stroke-width="0.9"/>
<line x1="431.52" y1="474.2" x2="431.52" y2="471.2" stroke="#222" stroke-width="0.9"/>
<line x1="431.52" y1="266.2" x2="431.52" y2="269.2" stroke="#222" stroke-width="0.9"/>
<line x1="445.75" y1="474.2" x2="445.75" y2="472.2" stroke="#222" stroke-width="0.9"/>
<line x1="445.75" y1="266.2" x2="445.75" y2="268.2" stroke="#222" stroke-width="0.9"/>
<line x1="459.97" y1="474.2" x2="459.97" y2="472.2" stroke="#222" stroke-width="0.9"/>
<line x1="459.97" y1="266.2" x2="459.97" y2="268.2" stroke="#222" stroke-width="0.9"/>
<line x1="474.20" y1="474.2" x2="474.20" y2="472.2" stroke="#222" stroke-width="0.9"/>
<line x1="474.20" y1="266.2" x2="474.20" y2="268.2" stroke="#222" stroke-width="0.9"/>
<line x1="488.42" y1="474.2" x2="488.42" y2="472.2" stroke="#222" stroke-width="0.9"/>
<line x1="488.42" y1="266.2" x2="488.42" y2="268.2" stroke="#222" stroke-width="0.9"/>
<line x1="502.65" y1="474.2" x2="502.65" y2="471.2" stroke="#222" stroke-width="0.9"/>
<line x1="502.65" y1="266.2" x2="502.65" y2="269.2" stroke="#222" stroke-width="0.9"/>
<line x1="516.88" y1="474.2" x2="516.88" y2="472.2" stroke="#222" stroke-width="0.9"/>
<line x1="516.88" y1="266.2" x2="516.88" y2="268.2" stroke="#222" stroke-width="0.9"/>
<line x1="531.10" y1="474.2" x2="531.10" y2="472.2" stroke="#222" stroke-width="0.9"/>
<line x1="531.10" y1="266.2" x2="531.10" y2="268.2" stroke="#222" stroke-width="0.9"/>
<line x1="545.32" y1="474.2" x2="545.32" y2="472.2" stroke="#222" stroke-width="0.9"/>
<line x1="545.32" y1="266.2" x2="545.32" y2="268.2" stroke="#222" stroke-width="0.9"/>
<line x1="559.55" y1="474.2" x2="559.55" y2="472.2" stroke="#222" stroke-width="0.9"/>
<line x1="559.55" y1="266.2" x2="559.55" y2="268.2" stroke="#222" stroke-width="0.9"/>
<line x1="573.77" y1="474.2" x2="573.77" y2="471.2" stroke="#222" stroke-width="0.9"/>
<line x1="573.77" y1="266.2" x2="573.77" y2="269.2" stroke="#222" stroke-width="0.9"/>
<line x1="588.00" y1="474.2" x2="588.00" y2="472.2" stroke="#222" stroke-width="0.9"/>
<line x1="588.00" y1="266.2" x2="588.00" y2="268.2" stroke="#222" stroke-width="0.9"/>
<line x1="602.22" y1="474.2" x2="602.22" y2="472.2" stroke="#222" stroke-width="0.9"/>
<line x1="602.22" y1="266.2" x2="602.22" y2="268.2" stroke="#222" stroke-width="0.9"/>
<line x1="616.45" y1="474.2" x2="616.45" y2="472.2" stroke="#222" stroke-width="0.9"/>
<line x1="616.45" y1="266.2" x2="616.45" y2="268.2" stroke="#222" stroke-width="0.9"/>
<line x1="630.67" y1="474.2" x2="630.67" y2="472.2" stroke="#222" stroke-width="0.9"/>
<line x1="630.67" y1="266.2" x2="630.67" y2="268.2" stroke="#222" stroke-width="0.9"/>
<line x1="644.90" y1="474.2" x2="644.90" y2="471.2" stroke="#222" stroke-width="0.9"/>
<line x1="644.90" y1="266.2" x2="644.90" y2="269.2" stroke="#222" stroke-width="0.9"/>
<line x1="353.6" y1="464.20" x2="356.6" y2="464.20" stroke="#222" stroke-width="0.9"/>
<line x1="651.5" y1="464.20" x2="648.5" y2="464.20" stroke="#222" stroke-width="0.9"/>
<line x1="353.6" y1="458.07" x2="355.6" y2="458.07" stroke="#222" stroke-width="0.9"/>
<line x1="651.5" y1="458.07" x2="649.5" y2="458.07" stroke="#222" stroke-width="0.9"/>
<line x1="353.6" y1="451.94" x2="355.6" y2="451.94" stroke="#222" stroke-width="0.9"/>
<line x1="651.5" y1="451.94" x2="649.5" y2="451.94" stroke="#222" stroke-width="0.9"/>
<line x1="353.6" y1="445.82" x2="355.6" y2="445.82" stroke="#222" stroke-width="0.9"/>
<line x1="651.5" y1="445.82" x2="649.5" y2="445.82" stroke="#222" stroke-width="0.9"/>
<line x1="353.6" y1="439.69" x2="355.6" y2="439.69" stroke="#222" stroke-width="0.9"/>
<line x1="651.5" y1="439.69" x2="649.5" y2="439.69" stroke="#222" stroke-width="0.9"/>
<line x1="353.6" y1="433.56" x2="356.6" y2="433.56" stroke="#222" stroke-width="0.9"/>
<line x1="651.5" y1="433.56" x2="648.5" y2="433.56" stroke="#222" stroke-width="0.9"/>
<line x1="353.6" y1="427.43" x2="355.6" y2="427.43" stroke="#222" stroke-width="0.9"/>
<line x1="651.5" y1="427.43" x2="649.5" y2="427.43" stroke="#222" stroke-width="0.9"/>
<line x1="353.6" y1="421.30" x2="355.6" y2="421.30" stroke="#222" stroke-width="0.9"/>
<line x1="651.5" y1="421.30" x2="649.5" y2="421.30" stroke="#222" stroke-width="0.9"/>
<line x1="353.6" y1="415.18" x2="355.6" y2="415.18" stroke="#222" stroke-width="0.9"/>
<line x1="651.5" y1="415.18" x2="649.5" y2="415.18" stroke="#222" stroke-width="0.9"/>
<line x1="353.6" y1="409.05" x2="355.6" y2="409.05" stroke="#222" stroke-width="0.9"/>
<line x1="651.5" y1="409.05" x2="649.5" y2="409.05" stroke="#222" stroke-width="0.9"/>
<line x1="353.6" y1="402.92" x2="356.6" y2="402.92" stroke="#222" stroke-width="0.9"/>
<line x1="651.5" y1="402.92" x2="648.5" y2="402.92" stroke="#222" stroke-width="0.9"/>
<line x1="353.6" y1="396.79" x2="355.6" y2="396.79" stroke="#222" stroke-width="0.9"/>
<line x1="651.5" y1="396.79" x2="649.5" y2="396.79" stroke="#222" stroke-width="0.9"/>
<line x1="353.6" y1="390.66" x2="355.6" y2="390.66" stroke="#222" stroke-width="0.9"/>
<line x1="651.5" y1="390.66" x2="649.5" y2="390.66" stroke="#222" stroke-width="0.9"/>
<line x1="353.6" y1="384.54" x2="355.6" y2="384.54" stroke="#222" stroke-width="0.9"/>
<line x1="651.5" y1="384.54" x2="649.5" y2="384.54" stroke="#222" stroke-width="0.9"/>
<line x1="353.6" y1="378.41" x2="355.6" y2="378.41" stroke="#222" stroke-width="0.9"/>
<line x1="651.5" y1="378.41" x2="649.5" y2="378.41" stroke="#222" stroke-width="0.9"/>
<line x1="353.6" y1="372.28" x2="356.6" y2="372.28" stroke="#222" stroke-width="0.9"/>
<line x1="651.5" y1="372.28" x2="648.5" y2="372.28" stroke="#222" stroke-width="0.9"/>
<line x1="353.6" y1="366.15" x2="355.6" y2="366.15" stroke="#222" stroke-width="0.9"/>
<line x1="651.5" y1="366.15" x2="649.5" y2="366.15" stroke="#222" stroke-width="0.9"/>
<line x1="353.6" y1="360.02" x2="355.6" y2="360.02" stroke="#222" stroke-width="0.9"/>
<line x1="651.5" y1="360.02" x2="649.5" y2="360.02" stroke="#222" stroke-width="0.9"/>
<line x1="353.6" y1="353.90" x2="355.6" y2="353.90" stroke="#222" stroke-width="0.9"/>
<line x1="651.5" y1="353.90" x2="649.5" y2="353.90" stroke="#222" stroke-width="0.9"/>
<line x1="353.6" y1="347.77" x2="355.6" y2="347.77" stroke="#222" stroke-width="0.9"/>
<line x1="651.5" y1="347.77" x2="649.5" y2="347.77" stroke="#222" stroke-width="0.9"/>
<line x1="353.6" y1="341.64" x2="356.6" y2="341.64" stroke="#222" stroke-width="0.9"/>
<line x1="651.5" y1="341.64" x2="648.5" y2="341.64" stroke="#222" stroke-width="0.9"/>
<line x1="353.6" y1="335.51" x2="355.6" y2="335.51" stroke="#222" stroke-width="0.9"/>
<line x1="651.5" y1="335.51" x2="649.5" y2="335.51" stroke="#222" stroke-width="0.9"/>
<line x1="353.6" y1="329.38" x2="355.6" y2="329.38" stroke="#222" stroke-width="0.9"/>
<line x1="651.5" y1="329.38" x2="649.5" y2="329.38" stroke="#222" stroke-width="0.9"/>
<line x1="353.6" y1="323.26" x2="355.6" y2="323.26" stroke="#222" stroke-width="0.9"/>
<line x1="651.5" y1="323.26" x2="649.5" y2="323.26" stroke="#222" stroke-width="0.9"/>
<line x1="353.6" y1="317.13" x2="355.6" y2="317.13" stroke="#222" stroke-width="0.9"/>
<line x1="651.5" y1="317.13" x2="649.5" y2="317.13" stroke="#222" stroke-width="0.9"/>
<line x1="353.6" y1="311.00" x2="356.6" y2="311.00" stroke="#222" stroke-width="0.9"/>
<line x1="651.5" y1="311.00" x2="648.5" y2="311.00" stroke="#222" stroke-width="0.9"/>
<line x1="353.6" y1="304.87" x2="355.6" y2="304.87" stroke="#222" stroke-width="0.9"/>
<line x1="651.5" y1="304.87" x2="649.5" y2="304.87" stroke="#222" stroke-width="0.9"/>
<line x1="353.6" y1="298.74" x2="355.6" y2="298.74" stroke="#222" stroke-width="0.9"/>
<line x1="651.5" y1="298.74" x2="649.5" y2="298.74" stroke="#222" stroke-width="0.9"/>
<line x1="353.6" y1="292.62" x2="355.6" y2="292.62" stroke="#222" stroke-width="0.9"/>
<line x1="651.5" y1="292.62" x2="649.5" y2="292.62" stroke="#222" stroke-width="0.9"/>
<line x1="353.6" y1="286.49" x2="355.6" y2="286.49" stroke="#222" stroke-width="0.9"/>
<line x1="651.5" y1="286.49" x2="649.5" y2="286.49" stroke="#222" stroke-width="0.9"/>
<line x1="353.6" y1="280.36" x2="356.6" y2="280.36" stroke="#222" stroke-width="0.9"/>
<line x1="651.5" y1="280.36" x2="648.5" y2="280.36" stroke="#222" stroke-width="0.9"/>
<line x1="353.6" y1="274.23" x2="355.6" y2="274.23" stroke="#222" stroke-width="0.9"/>
<line x1="651.5" y1="274.23" x2="649.5" y2="274.23" stroke="#222" stroke-width="0.9"/>
<line x1="353.6" y1="268.10" x2="355.6" y2="268.10" stroke="#222" stroke-width="0.9"/>
<line x1="651.5" y1="268.10" x2="649.5" y2="268.10" stroke="#222" stroke-width="0.9"/>
<text x="351.3" y="469.1" font-size="14" text-anchor="end" font-style="normal" fill="#111" >0</text>
<text x="351.3" y="438.5" font-size="14" text-anchor="end" font-style="normal" fill="#111" >20</text>
<text x="351.3" y="407.8" font-size="14" text-anchor="end" font-style="normal" fill="#111" >40</text>
<text x="351.3" y="377.2" font-size="14" text-anchor="end" font-style="normal" fill="#111" >60</text>
<text x="351.3" y="346.5" font-size="14" text-anchor="end" font-style="normal" fill="#111" >80</text>
<text x="351.3" y="315.9" font-size="14" text-anchor="end" font-style="normal" fill="#111" >100</text>
<text x="351.3" y="285.3" font-size="14" text-anchor="end" font-style="normal" fill="#111" >120</text>
<text x="360.0" y="489.6" font-size="14.2" text-anchor="middle" font-style="normal" fill="#111" >65</text>
<text x="431.1" y="489.6" font-size="14.2" text-anchor="middle" font-style="normal" fill="#111" >70</text>
<text x="502.2" y="489.6" font-size="14.2" text-anchor="middle" font-style="normal" fill="#111" >75</text>
<text x="573.4" y="489.6" font-size="14.2" text-anchor="middle" font-style="normal" fill="#111" >80</text>
<text x="644.5" y="489.6" font-size="14.2" text-anchor="middle" font-style="normal" fill="#111" >85</text>
<text x="468.4" y="510.6" font-size="17" fill="#111"><tspan font-style="italic">H</tspan><tspan font-size="12" dy="3">SO</tspan><tspan dy="-3"> [mT]</tspan></text>
<text x="0" y="0" font-size="16.9" fill="#111" text-anchor="middle" transform="translate(324.5,368.5) rotate(-90)"><tspan font-style="italic">ξ</tspan> [Number of DW/ns ]</text>
<defs><clipPath id="clipd"><rect x="353.6" y="266.2" width="297.9" height="208"/></clipPath></defs>
<g clip-path="url(#clipd)">
<line x1="488.2" y1="433.6" x2="651.4" y2="265.6" stroke="#1616f0" stroke-width="1.3"/>
<line x1="488.2" y1="454.9" x2="651.4" y2="307.7" stroke="#f01414" stroke-width="1.1" stroke-dasharray="2 2.2"/>
<line x1="488.2" y1="436.5" x2="651.4" y2="321.8" stroke="#169a16" stroke-width="1.2" stroke-dasharray="7 5"/>
<line x1="488.2" y1="446.8" x2="651.4" y2="345.4" stroke="#ff8a14" stroke-width="1.1" stroke-dasharray="3 1.6 1 1.6"/>
</g>
<circle cx="545.32" cy="464.10" r="2.9" fill="#1616f0"/>
<circle cx="552.44" cy="464.10" r="2.9" fill="#1616f0"/>
<rect x="357.80" y="461.50" width="5.2" height="5.2" fill="#f01414"/>
<rect x="364.91" y="461.50" width="5.2" height="5.2" fill="#f01414"/>
<rect x="372.02" y="461.50" width="5.2" height="5.2" fill="#f01414"/>
<rect x="379.14" y="461.50" width="5.2" height="5.2" fill="#f01414"/>
<rect x="386.25" y="461.50" width="5.2" height="5.2" fill="#f01414"/>
<rect x="393.36" y="461.50" width="5.2" height="5.2" fill="#f01414"/>
<rect x="400.47" y="461.50" width="5.2" height="5.2" fill="#f01414"/>
<rect x="407.59" y="461.50" width="5.2" height="5.2" fill="#f01414"/>
<rect x="414.70" y="461.50" width="5.2" height="5.2" fill="#f01414"/>
<rect x="421.81" y="461.50" width="5.2" height="5.2" fill="#f01414"/>
<rect x="428.92" y="461.50" width="5.2" height="5.2" fill="#f01414"/>
<rect x="436.04" y="461.50" width="5.2" height="5.2" fill="#f01414"/>
<rect x="443.15" y="461.50" width="5.2" height="5.2" fill="#f01414"/>
<rect x="450.26" y="461.50" width="5.2" height="5.2" fill="#f01414"/>
<rect x="457.37" y="461.50" width="5.2" height="5.2" fill="#f01414"/>
<rect x="464.49" y="461.50" width="5.2" height="5.2" fill="#f01414"/>
<rect x="471.60" y="461.50" width="5.2" height="5.2" fill="#f01414"/>
<rect x="478.71" y="461.50" width="5.2" height="5.2" fill="#f01414"/>
<rect x="485.82" y="461.50" width="5.2" height="5.2" fill="#f01414"/>
<rect x="492.94" y="461.50" width="5.2" height="5.2" fill="#f01414"/>
<rect x="500.05" y="461.50" width="5.2" height="5.2" fill="#f01414"/>
<rect x="507.16" y="461.50" width="5.2" height="5.2" fill="#f01414"/>
<rect x="514.27" y="461.50" width="5.2" height="5.2" fill="#f01414"/>
<rect x="521.39" y="461.50" width="5.2" height="5.2" fill="#f01414"/>
<rect x="528.50" y="461.50" width="5.2" height="5.2" fill="#f01414"/>
<rect x="535.61" y="461.50" width="5.2" height="5.2" fill="#f01414"/>
<path d="M360.40,461.40 L363.10,464.10 L360.40,466.80 L357.70,464.10Z" fill="#169a16"/>
<path d="M367.51,461.40 L370.21,464.10 L367.51,466.80 L364.81,464.10Z" fill="#169a16"/>
<path d="M374.62,461.40 L377.32,464.10 L374.62,466.80 L371.93,464.10Z" fill="#169a16"/>
<path d="M381.74,461.40 L384.44,464.10 L381.74,466.80 L379.04,464.10Z" fill="#169a16"/>
<path d="M388.85,461.40 L391.55,464.10 L388.85,466.80 L386.15,464.10Z" fill="#169a16"/>
<path d="M395.96,461.40 L398.66,464.10 L395.96,466.80 L393.26,464.10Z" fill="#169a16"/>
<path d="M403.07,461.40 L405.77,464.10 L403.07,466.80 L400.38,464.10Z" fill="#169a16"/>
<path d="M410.19,461.40 L412.89,464.10 L410.19,466.80 L407.49,464.10Z" fill="#169a16"/>
<path d="M417.30,461.40 L420.00,464.10 L417.30,466.80 L414.60,464.10Z" fill="#169a16"/>
<path d="M424.41,461.40 L427.11,464.10 L424.41,466.80 L421.71,464.10Z" fill="#169a16"/>
<path d="M431.52,461.40 L434.22,464.10 L431.52,466.80 L428.82,464.10Z" fill="#169a16"/>
<path d="M438.64,461.40 L441.34,464.10 L438.64,466.80 L435.94,464.10Z" fill="#169a16"/>
<path d="M445.75,461.40 L448.45,464.10 L445.75,466.80 L443.05,464.10Z" fill="#169a16"/>
<path d="M452.86,461.40 L455.56,464.10 L452.86,466.80 L450.16,464.10Z" fill="#169a16"/>
<path d="M459.97,461.40 L462.67,464.10 L459.97,466.80 L457.27,464.10Z" fill="#169a16"/>
<path d="M467.09,461.40 L469.79,464.10 L467.09,466.80 L464.39,464.10Z" fill="#169a16"/>
<path d="M474.20,461.40 L476.90,464.10 L474.20,466.80 L471.50,464.10Z" fill="#169a16"/>
<path d="M481.31,461.40 L484.01,464.10 L481.31,466.80 L478.61,464.10Z" fill="#169a16"/>
<path d="M488.42,461.40 L491.12,464.10 L488.42,466.80 L485.72,464.10Z" fill="#169a16"/>
<path d="M495.54,461.40 L498.24,464.10 L495.54,466.80 L492.84,464.10Z" fill="#169a16"/>
<path d="M360.40,461.20 L363.60,466.80 L357.20,466.80Z" fill="#ff8a14"/>
<path d="M367.51,461.20 L370.71,466.80 L364.31,466.80Z" fill="#ff8a14"/>
<path d="M374.62,461.20 L377.82,466.80 L371.43,466.80Z" fill="#ff8a14"/>
<path d="M381.74,461.20 L384.94,466.80 L378.54,466.80Z" fill="#ff8a14"/>
<path d="M388.85,461.20 L392.05,466.80 L385.65,466.80Z" fill="#ff8a14"/>
<path d="M395.96,461.20 L399.16,466.80 L392.76,466.80Z" fill="#ff8a14"/>
<path d="M403.07,461.20 L406.27,466.80 L399.88,466.80Z" fill="#ff8a14"/>
<path d="M410.19,461.20 L413.39,466.80 L406.99,466.80Z" fill="#ff8a14"/>
<path d="M417.30,461.20 L420.50,466.80 L414.10,466.80Z" fill="#ff8a14"/>
<path d="M424.41,461.20 L427.61,466.80 L421.21,466.80Z" fill="#ff8a14"/>
<path d="M431.52,461.20 L434.72,466.80 L428.32,466.80Z" fill="#ff8a14"/>
<path d="M438.64,461.20 L441.84,466.80 L435.44,466.80Z" fill="#ff8a14"/>
<path d="M445.75,461.20 L448.95,466.80 L442.55,466.80Z" fill="#ff8a14"/>
<path d="M452.86,461.20 L456.06,466.80 L449.66,466.80Z" fill="#ff8a14"/>
<path d="M459.97,461.20 L463.17,466.80 L456.77,466.80Z" fill="#ff8a14"/>
<path d="M467.09,461.20 L470.29,466.80 L463.89,466.80Z" fill="#ff8a14"/>
<path d="M474.20,461.20 L477.40,466.80 L471.00,466.80Z" fill="#ff8a14"/>
<path d="M481.31,461.20 L484.51,466.80 L478.11,466.80Z" fill="#ff8a14"/>
<path d="M488.42,461.20 L491.62,466.80 L485.22,466.80Z" fill="#ff8a14"/>
<path d="M495.54,461.20 L498.74,466.80 L492.34,466.80Z" fill="#ff8a14"/>
<path d="M502.65,461.20 L505.85,466.80 L499.45,466.80Z" fill="#ff8a14"/>
<circle cx="559.55" cy="364.40" r="2.9" fill="#1616f0"/>
<circle cx="566.66" cy="357.10" r="2.9" fill="#1616f0"/>
<circle cx="573.77" cy="352.50" r="2.9" fill="#1616f0"/>
<circle cx="580.89" cy="338.80" r="2.9" fill="#1616f0"/>
<circle cx="588.00" cy="325.00" r="2.9" fill="#1616f0"/>
<circle cx="595.11" cy="318.00" r="2.9" fill="#1616f0"/>
<circle cx="602.22" cy="318.00" r="2.9" fill="#1616f0"/>
<circle cx="609.34" cy="302.40" r="2.9" fill="#1616f0"/>
<circle cx="616.45" cy="298.00" r="2.9" fill="#1616f0"/>
<circle cx="623.56" cy="290.40" r="2.9" fill="#1616f0"/>
<circle cx="630.67" cy="290.40" r="2.9" fill="#1616f0"/>
<circle cx="637.79" cy="283.00" r="2.9" fill="#1616f0"/>
<circle cx="644.90" cy="275.70" r="2.9" fill="#1616f0"/>
<rect x="542.72" y="392.00" width="5.2" height="5.2" fill="#f01414"/>
<rect x="549.84" y="406.50" width="5.2" height="5.2" fill="#f01414"/>
<rect x="556.95" y="394.60" width="5.2" height="5.2" fill="#f01414"/>
<rect x="564.06" y="381.00" width="5.2" height="5.2" fill="#f01414"/>
<rect x="571.17" y="374.60" width="5.2" height="5.2" fill="#f01414"/>
<rect x="578.29" y="363.90" width="5.2" height="5.2" fill="#f01414"/>
<rect x="585.40" y="356.00" width="5.2" height="5.2" fill="#f01414"/>
<rect x="592.51" y="353.70" width="5.2" height="5.2" fill="#f01414"/>
<rect x="599.62" y="347.80" width="5.2" height="5.2" fill="#f01414"/>
<rect x="606.74" y="346.40" width="5.2" height="5.2" fill="#f01414"/>
<rect x="613.85" y="339.10" width="5.2" height="5.2" fill="#f01414"/>
<rect x="620.96" y="328.90" width="5.2" height="5.2" fill="#f01414"/>
<rect x="628.07" y="324.30" width="5.2" height="5.2" fill="#f01414"/>
<rect x="635.19" y="318.60" width="5.2" height="5.2" fill="#f01414"/>
<rect x="642.30" y="311.40" width="5.2" height="5.2" fill="#f01414"/>
<path d="M509.76,432.60 L513.16,438.55 L506.36,438.55Z" fill="#ff8a14"/>
<path d="M516.88,425.60 L520.27,431.55 L513.48,431.55Z" fill="#ff8a14"/>
<path d="M523.99,418.10 L527.39,424.05 L520.59,424.05Z" fill="#ff8a14"/>
<path d="M531.10,413.40 L534.50,419.35 L527.70,419.35Z" fill="#ff8a14"/>
<path d="M538.21,412.30 L541.61,418.25 L534.81,418.25Z" fill="#ff8a14"/>
<path d="M545.32,407.60 L548.72,413.55 L541.92,413.55Z" fill="#ff8a14"/>
<path d="M552.44,399.40 L555.84,405.35 L549.04,405.35Z" fill="#ff8a14"/>
<path d="M559.55,402.40 L562.95,408.35 L556.15,408.35Z" fill="#ff8a14"/>
<path d="M566.66,398.60 L570.06,404.55 L563.26,404.55Z" fill="#ff8a14"/>
<path d="M573.77,392.80 L577.17,398.75 L570.38,398.75Z" fill="#ff8a14"/>
<path d="M580.89,382.90 L584.29,388.85 L577.49,388.85Z" fill="#ff8a14"/>
<path d="M588.00,387.00 L591.40,392.95 L584.60,392.95Z" fill="#ff8a14"/>
<path d="M595.11,375.30 L598.51,381.25 L591.71,381.25Z" fill="#ff8a14"/>
<path d="M602.22,369.50 L605.62,375.45 L598.82,375.45Z" fill="#ff8a14"/>
<path d="M609.34,360.70 L612.74,366.65 L605.94,366.65Z" fill="#ff8a14"/>
<path d="M616.45,360.70 L619.85,366.65 L613.05,366.65Z" fill="#ff8a14"/>
<path d="M623.56,360.70 L626.96,366.65 L620.16,366.65Z" fill="#ff8a14"/>
<path d="M630.67,352.90 L634.07,358.85 L627.27,358.85Z" fill="#ff8a14"/>
<path d="M637.79,354.90 L641.19,360.85 L634.39,360.85Z" fill="#ff8a14"/>
<path d="M644.90,352.90 L648.30,358.85 L641.50,358.85Z" fill="#ff8a14"/>
<path d="M502.65,427.00 L505.95,430.30 L502.65,433.60 L499.35,430.30Z" fill="#169a16"/>
<path d="M509.76,432.20 L513.06,435.50 L509.76,438.80 L506.46,435.50Z" fill="#169a16"/>
<path d="M516.88,423.80 L520.17,427.10 L516.88,430.40 L513.58,427.10Z" fill="#169a16"/>
<path d="M523.99,415.90 L527.29,419.20 L523.99,422.50 L520.69,419.20Z" fill="#169a16"/>
<path d="M531.10,408.90 L534.40,412.20 L531.10,415.50 L527.80,412.20Z" fill="#169a16"/>
<path d="M538.21,406.00 L541.51,409.30 L538.21,412.60 L534.91,409.30Z" fill="#169a16"/>
<path d="M545.32,389.00 L548.62,392.30 L545.32,395.60 L542.02,392.30Z" fill="#169a16"/>
<path d="M552.44,392.00 L555.74,395.30 L552.44,398.60 L549.14,395.30Z" fill="#169a16"/>
<path d="M559.55,376.90 L562.85,380.20 L559.55,383.50 L556.25,380.20Z" fill="#169a16"/>
<path d="M566.66,371.90 L569.96,375.20 L566.66,378.50 L563.36,375.20Z" fill="#169a16"/>
<path d="M573.77,367.50 L577.07,370.80 L573.77,374.10 L570.48,370.80Z" fill="#169a16"/>
<path d="M580.89,358.20 L584.19,361.50 L580.89,364.80 L577.59,361.50Z" fill="#169a16"/>
<path d="M588.00,355.00 L591.30,358.30 L588.00,361.60 L584.70,358.30Z" fill="#169a16"/>
<path d="M595.11,349.20 L598.41,352.50 L595.11,355.80 L591.81,352.50Z" fill="#169a16"/>
<path d="M602.22,345.10 L605.52,348.40 L602.22,351.70 L598.92,348.40Z" fill="#169a16"/>
<path d="M609.34,345.10 L612.64,348.40 L609.34,351.70 L606.04,348.40Z" fill="#169a16"/>
<path d="M616.45,342.70 L619.75,346.00 L616.45,349.30 L613.15,346.00Z" fill="#169a16"/>
<path d="M623.56,339.00 L626.86,342.30 L623.56,345.60 L620.26,342.30Z" fill="#169a16"/>
<path d="M630.67,340.70 L633.97,344.00 L630.67,347.30 L627.38,344.00Z" fill="#169a16"/>
<path d="M637.79,338.40 L641.09,341.70 L637.79,345.00 L634.49,341.70Z" fill="#169a16"/>
<path d="M644.90,336.90 L648.20,340.20 L644.90,343.50 L641.60,340.20Z" fill="#169a16"/>
<text x="369" y="289" font-size="13.6" text-anchor="start" font-style="normal" fill="#111" >Fit</text>
<line x1="368" y1="292.3" x2="391" y2="292.3" stroke="#1616f0" stroke-width="1.3"/>
<line x1="368" y1="317.3" x2="391" y2="317.3" stroke="#f01414" stroke-width="1.1" stroke-dasharray="2 2.2"/>
<line x1="368" y1="342.2" x2="391" y2="342.2" stroke="#169a16" stroke-width="1.2" stroke-dasharray="6 4"/>
<line x1="368" y1="366.7" x2="391" y2="366.7" stroke="#ff8a14" stroke-width="1.1" stroke-dasharray="3 1.6 1 1.6"/>
<circle cx="413.50" cy="294.60" r="2.8" fill="#1616f0"/>
<rect x="411.00" y="314.80" width="5" height="5" fill="#f01414"/>
<path d="M413.50,337.60 L416.50,340.60 L413.50,343.60 L410.50,340.60Z" fill="#169a16"/>
<path d="M413.50,360.60 L416.50,365.85 L410.50,365.85Z" fill="#ff8a14"/>
<text x="423.4" y="298.6" font-size="13.5" text-anchor="start" font-style="normal" fill="#111" >T = 15 ps</text>
<text x="423.4" y="321.3" font-size="13.5" text-anchor="start" font-style="normal" fill="#111" >T = 20 ps</text>
<text x="423.4" y="344.0" font-size="13.5" text-anchor="start" font-style="normal" fill="#111" >T = 25 ps</text>
<text x="423.4" y="366.7" font-size="13.5" text-anchor="start" font-style="normal" fill="#111" >T = 30 ps</text>
</svg></body></html>
